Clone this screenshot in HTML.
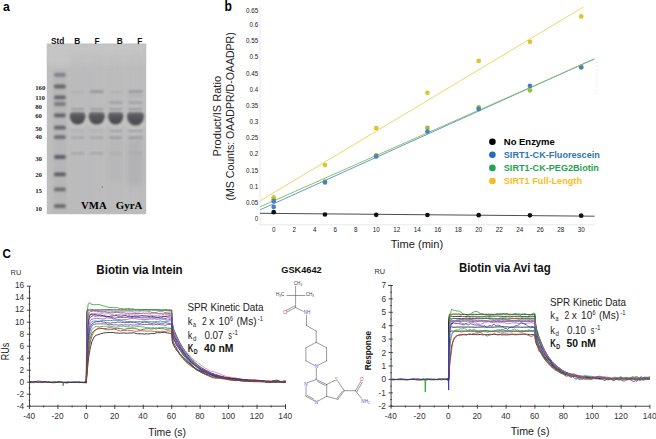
<!DOCTYPE html>
<html><head><meta charset="utf-8"><style>
html,body{margin:0;padding:0;background:#fff;width:656px;height:439px;overflow:hidden;font-family:"Liberation Sans",sans-serif;}
svg{display:block;}
</style></head><body>
<svg width="656" height="439" viewBox="0 0 656 439">
<rect width="656" height="439" fill="#fff"/>
<text x="2.90" y="10.70" font-family="Liberation Sans" font-size="13.2" font-weight="bold" fill="#000" text-anchor="start" textLength="6.8" lengthAdjust="spacingAndGlyphs" >a</text>
<defs><filter id="b1" x="-50%" y="-50%" width="200%" height="200%"><feGaussianBlur stdDeviation="0.8"/></filter><filter id="b1b" x="-50%" y="-50%" width="200%" height="200%"><feGaussianBlur stdDeviation="1.0"/></filter><filter id="b2" x="-50%" y="-50%" width="200%" height="200%"><feGaussianBlur stdDeviation="1.4"/></filter><filter id="b3" x="-50%" y="-50%" width="200%" height="200%"><feGaussianBlur stdDeviation="2.5"/></filter><filter id="bt" x="-10%" y="-10%" width="120%" height="120%"><feGaussianBlur stdDeviation="0.35"/></filter><clipPath id="gc"><rect x="46.8" y="43.6" width="99.4" height="170.6"/></clipPath></defs>
<rect x="46.8" y="43.6" width="99.4" height="170.6" fill="#bebebf"/>
<g clip-path="url(#gc)">
<rect x="46.8" y="43.6" width="99.4" height="22" fill="#c6c6c6" filter="url(#b3)" opacity="0.9"/>
<rect x="69.7" y="53.6" width="15.799999999999997" height="160.6" fill="#b8b8b9" filter="url(#b3)" opacity="0.4"/>
<rect x="88.6" y="53.6" width="16.200000000000003" height="160.6" fill="#b8b8b9" filter="url(#b3)" opacity="0.4"/>
<rect x="108" y="53.6" width="15.299999999999997" height="160.6" fill="#b8b8b9" filter="url(#b3)" opacity="0.4"/>
<rect x="127" y="53.6" width="17" height="160.6" fill="#b8b8b9" filter="url(#b3)" opacity="0.4"/>
<rect x="53.5" y="70" width="13" height="142" fill="#b0b0b2" filter="url(#b2)" opacity="0.55"/>
<rect x="54.0" y="72.89999999999999" width="11.8" height="3.8" rx="1.6" fill="#5c5c64" opacity="0.6000000000000001" filter="url(#b1b)"/>
<rect x="54.0" y="84.6" width="11.8" height="3.8" rx="1.6" fill="#5c5c64" opacity="0.9" filter="url(#b1b)"/>
<rect x="54.0" y="95.39999999999999" width="11.8" height="3.8" rx="1.6" fill="#5c5c64" opacity="0.9" filter="url(#b1b)"/>
<rect x="54.0" y="102.1" width="11.8" height="3.8" rx="1.6" fill="#5c5c64" opacity="0.65" filter="url(#b1b)"/>
<rect x="54.0" y="113.39999999999999" width="11.8" height="3.8" rx="1.6" fill="#5c5c64" opacity="0.9500000000000001" filter="url(#b1b)"/>
<rect x="54.0" y="125.69999999999999" width="11.8" height="3.8" rx="1.6" fill="#5c5c64" opacity="0.9" filter="url(#b1b)"/>
<rect x="54.0" y="135.29999999999998" width="11.8" height="3.8" rx="1.6" fill="#5c5c64" opacity="0.8" filter="url(#b1b)"/>
<rect x="54.0" y="155.1" width="11.8" height="3.8" rx="1.6" fill="#5c5c64" opacity="0.9500000000000001" filter="url(#b1b)"/>
<rect x="54.0" y="172.4" width="11.8" height="3.8" rx="1.6" fill="#5c5c64" opacity="1" filter="url(#b1b)"/>
<rect x="54.0" y="187.5" width="11.8" height="3.8" rx="1.6" fill="#5c5c64" opacity="0.8" filter="url(#b1b)"/>
<rect x="54.0" y="204.29999999999998" width="11.8" height="3.8" rx="1.6" fill="#5c5c64" opacity="0.8500000000000001" filter="url(#b1b)"/>
<defs><linearGradient id="bg" x1="0" y1="0" x2="0" y2="1"><stop offset="0" stop-color="#747478"/><stop offset="0.35" stop-color="#55555a"/><stop offset="1" stop-color="#4a4a4f"/></linearGradient></defs>
<rect x="68.2" y="109.5" width="18.799999999999997" height="17.599999999999994" rx="5" fill="#c8c8c8" filter="url(#b2)" opacity="0.7"/>
<rect x="87.1" y="109.5" width="19.200000000000003" height="17.599999999999994" rx="5" fill="#c8c8c8" filter="url(#b2)" opacity="0.7"/>
<rect x="106.5" y="109.5" width="18.299999999999997" height="17.599999999999994" rx="5" fill="#c8c8c8" filter="url(#b2)" opacity="0.7"/>
<rect x="125.5" y="109.5" width="20" height="18.599999999999994" rx="5" fill="#c8c8c8" filter="url(#b2)" opacity="0.7"/>
<path d="M72.2,112 L83.0,112 Q85.5,112.4 85.5,116.3 A7.90,8.30 0 0 1 69.7,116.3 Q69.7,112.4 72.2,112 Z" fill="url(#bg)" filter="url(#b1)"/>
<path d="M91.1,112 L102.3,112 Q104.8,112.4 104.8,116.3 A8.10,8.30 0 0 1 88.6,116.3 Q88.6,112.4 91.1,112 Z" fill="url(#bg)" filter="url(#b1)"/>
<path d="M110.5,112 L120.8,112 Q123.3,112.4 123.3,116.3 A7.65,8.30 0 0 1 108,116.3 Q108,112.4 110.5,112 Z" fill="url(#bg)" filter="url(#b1)"/>
<path d="M129.5,112 L141.5,112 Q144,112.4 144,116.3 A8.50,9.30 0 0 1 127,116.3 Q127,112.4 129.5,112 Z" fill="url(#bg)" filter="url(#b1)"/>
<rect x="71.2" y="108.5" width="12.799999999999997" height="1.6" fill="#6a6a70" opacity="0.55" filter="url(#b1)"/>
<rect x="90.1" y="108.5" width="13.200000000000003" height="1.6" fill="#6a6a70" opacity="0.55" filter="url(#b1)"/>
<rect x="109.5" y="108.5" width="12.299999999999997" height="1.6" fill="#6a6a70" opacity="0.55" filter="url(#b1)"/>
<rect x="128.5" y="108.5" width="14" height="1.6" fill="#6a6a70" opacity="0.55" filter="url(#b1)"/>
<rect x="90.1" y="90.3" width="13.200000000000003" height="2.6" fill="#6a6a70" opacity="0.45" filter="url(#b1)"/>
<rect x="128.5" y="90.3" width="14" height="2.6" fill="#6a6a70" opacity="0.45" filter="url(#b1)"/>
<rect x="71.2" y="91.2" width="12.799999999999997" height="2" fill="#6a6a70" opacity="0.15" filter="url(#b1)"/>
<rect x="109.5" y="91.2" width="12.299999999999997" height="2" fill="#6a6a70" opacity="0.15" filter="url(#b1)"/>
<rect x="109.5" y="101.6" width="12.299999999999997" height="2" fill="#6a6a70" opacity="0.4" filter="url(#b1)"/>
<rect x="128.5" y="101.6" width="14" height="2" fill="#6a6a70" opacity="0.4" filter="url(#b1)"/>
<rect x="128.5" y="95.10000000000001" width="14" height="1.6" fill="#6a6a70" opacity="0.2" filter="url(#b1)"/>
<rect x="109.5" y="130.0" width="12.299999999999997" height="1.8" fill="#6a6a70" opacity="0.35" filter="url(#b1)"/>
<rect x="128.5" y="130.0" width="14" height="1.8" fill="#6a6a70" opacity="0.35" filter="url(#b1)"/>
<rect x="71.2" y="130.1" width="12.799999999999997" height="1.6" fill="#6a6a70" opacity="0.15" filter="url(#b1)"/>
<rect x="90.1" y="130.1" width="13.200000000000003" height="1.6" fill="#6a6a70" opacity="0.15" filter="url(#b1)"/>
<rect x="109.5" y="136.7" width="12.299999999999997" height="2" fill="#6a6a70" opacity="0.45" filter="url(#b1)"/>
<rect x="128.5" y="136.7" width="14" height="2" fill="#6a6a70" opacity="0.45" filter="url(#b1)"/>
<rect x="71.2" y="136.7" width="12.799999999999997" height="2" fill="#6a6a70" opacity="0.3" filter="url(#b1)"/>
<rect x="90.1" y="136.7" width="13.200000000000003" height="2" fill="#6a6a70" opacity="0.3" filter="url(#b1)"/>
<rect x="71.2" y="152.3" width="12.799999999999997" height="2" fill="#6a6a70" opacity="0.3" filter="url(#b1)"/>
<rect x="90.1" y="152.3" width="13.200000000000003" height="2" fill="#6a6a70" opacity="0.3" filter="url(#b1)"/>
<rect x="109.5" y="152.3" width="12.299999999999997" height="2" fill="#6a6a70" opacity="0.15" filter="url(#b1)"/>
<rect x="128.5" y="152.3" width="14" height="2" fill="#6a6a70" opacity="0.15" filter="url(#b1)"/>
<rect x="110" y="140" width="12" height="40" fill="#a8a8ae" opacity="0.25" filter="url(#b3)"/>
<rect x="129" y="140" width="13" height="45" fill="#a0a0a8" opacity="0.35" filter="url(#b3)"/>
<circle cx="102.4" cy="186.9" r="0.7" fill="#777"/>
</g>
<text x="57.60" y="43.70" font-family="Liberation Sans" font-size="8.6" font-weight="bold" fill="#111" text-anchor="middle" textLength="13.4" lengthAdjust="spacingAndGlyphs" >Std</text>
<text x="77.20" y="43.70" font-family="Liberation Sans" font-size="8.4" font-weight="bold" fill="#111" text-anchor="middle" >B</text>
<text x="97.00" y="43.70" font-family="Liberation Sans" font-size="8.4" font-weight="bold" fill="#111" text-anchor="middle" >F</text>
<text x="119.70" y="43.70" font-family="Liberation Sans" font-size="8.4" font-weight="bold" fill="#111" text-anchor="middle" >B</text>
<text x="139.80" y="43.70" font-family="Liberation Sans" font-size="8.4" font-weight="bold" fill="#111" text-anchor="middle" >F</text>
<text x="35.20" y="89.80" font-family="Liberation Serif" font-size="6.8" font-weight="bold" fill="#222" text-anchor="start" >160</text>
<text x="35.20" y="100.20" font-family="Liberation Serif" font-size="6.8" font-weight="bold" fill="#222" text-anchor="start" >110</text>
<text x="35.20" y="109.30" font-family="Liberation Serif" font-size="6.8" font-weight="bold" fill="#222" text-anchor="start" >80</text>
<text x="35.20" y="117.70" font-family="Liberation Serif" font-size="6.8" font-weight="bold" fill="#222" text-anchor="start" >60</text>
<text x="35.20" y="130.50" font-family="Liberation Serif" font-size="6.8" font-weight="bold" fill="#222" text-anchor="start" >50</text>
<text x="35.20" y="138.80" font-family="Liberation Serif" font-size="6.8" font-weight="bold" fill="#222" text-anchor="start" >40</text>
<text x="35.20" y="160.90" font-family="Liberation Serif" font-size="6.8" font-weight="bold" fill="#222" text-anchor="start" >30</text>
<text x="35.20" y="176.60" font-family="Liberation Serif" font-size="6.8" font-weight="bold" fill="#222" text-anchor="start" >20</text>
<text x="35.20" y="192.80" font-family="Liberation Serif" font-size="6.8" font-weight="bold" fill="#222" text-anchor="start" >15</text>
<text x="35.20" y="210.80" font-family="Liberation Serif" font-size="6.8" font-weight="bold" fill="#222" text-anchor="start" >10</text>
<text x="81.10" y="208.70" font-family="Liberation Serif" font-size="10.6" font-weight="bold" fill="#000" text-anchor="start" textLength="25.7" lengthAdjust="spacingAndGlyphs" >VMA</text>
<text x="115.80" y="208.70" font-family="Liberation Serif" font-size="10.6" font-weight="bold" fill="#000" text-anchor="start" textLength="26.5" lengthAdjust="spacingAndGlyphs" >GyrA</text>
<text x="224.60" y="10.70" font-family="Liberation Sans" font-size="14" font-weight="bold" fill="#000" text-anchor="start" textLength="7.4" lengthAdjust="spacingAndGlyphs" >b</text>
<line x1="260" y1="6" x2="260" y2="225" stroke="#e2e2e2" stroke-width="0.8"/>
<line x1="260" y1="224.8" x2="594.7" y2="224.8" stroke="#e2e2e2" stroke-width="0.8"/>
<text x="258.30" y="221.00" font-family="Liberation Sans" font-size="6.3" font-weight="normal" fill="#222" text-anchor="end" >0</text>
<text x="258.30" y="204.84" font-family="Liberation Sans" font-size="6.3" font-weight="normal" fill="#222" text-anchor="end" >0.05</text>
<text x="258.30" y="188.68" font-family="Liberation Sans" font-size="6.3" font-weight="normal" fill="#222" text-anchor="end" >0.1</text>
<text x="258.30" y="172.52" font-family="Liberation Sans" font-size="6.3" font-weight="normal" fill="#222" text-anchor="end" >0.15</text>
<text x="258.30" y="156.36" font-family="Liberation Sans" font-size="6.3" font-weight="normal" fill="#222" text-anchor="end" >0.2</text>
<text x="258.30" y="140.20" font-family="Liberation Sans" font-size="6.3" font-weight="normal" fill="#222" text-anchor="end" >0.25</text>
<text x="258.30" y="124.04" font-family="Liberation Sans" font-size="6.3" font-weight="normal" fill="#222" text-anchor="end" >0.3</text>
<text x="258.30" y="107.88" font-family="Liberation Sans" font-size="6.3" font-weight="normal" fill="#222" text-anchor="end" >0.35</text>
<text x="258.30" y="91.72" font-family="Liberation Sans" font-size="6.3" font-weight="normal" fill="#222" text-anchor="end" >0.4</text>
<text x="258.30" y="75.56" font-family="Liberation Sans" font-size="6.3" font-weight="normal" fill="#222" text-anchor="end" >0.45</text>
<text x="258.30" y="59.40" font-family="Liberation Sans" font-size="6.3" font-weight="normal" fill="#222" text-anchor="end" >0.5</text>
<text x="258.30" y="43.24" font-family="Liberation Sans" font-size="6.3" font-weight="normal" fill="#222" text-anchor="end" >0.55</text>
<text x="258.30" y="27.08" font-family="Liberation Sans" font-size="6.3" font-weight="normal" fill="#222" text-anchor="end" >0.6</text>
<text x="258.30" y="12.95" font-family="Liberation Sans" font-size="6.3" font-weight="normal" fill="#222" text-anchor="end" >0.65</text>
<text x="273.70" y="231.80" font-family="Liberation Sans" font-size="6.3" font-weight="normal" fill="#222" text-anchor="middle" >0</text>
<text x="294.20" y="231.80" font-family="Liberation Sans" font-size="6.3" font-weight="normal" fill="#222" text-anchor="middle" >2</text>
<text x="314.70" y="231.80" font-family="Liberation Sans" font-size="6.3" font-weight="normal" fill="#222" text-anchor="middle" >4</text>
<text x="335.20" y="231.80" font-family="Liberation Sans" font-size="6.3" font-weight="normal" fill="#222" text-anchor="middle" >6</text>
<text x="355.70" y="231.80" font-family="Liberation Sans" font-size="6.3" font-weight="normal" fill="#222" text-anchor="middle" >8</text>
<text x="376.20" y="231.80" font-family="Liberation Sans" font-size="6.3" font-weight="normal" fill="#222" text-anchor="middle" >10</text>
<text x="396.70" y="231.80" font-family="Liberation Sans" font-size="6.3" font-weight="normal" fill="#222" text-anchor="middle" >12</text>
<text x="417.20" y="231.80" font-family="Liberation Sans" font-size="6.3" font-weight="normal" fill="#222" text-anchor="middle" >14</text>
<text x="437.70" y="231.80" font-family="Liberation Sans" font-size="6.3" font-weight="normal" fill="#222" text-anchor="middle" >16</text>
<text x="458.20" y="231.80" font-family="Liberation Sans" font-size="6.3" font-weight="normal" fill="#222" text-anchor="middle" >18</text>
<text x="478.70" y="231.80" font-family="Liberation Sans" font-size="6.3" font-weight="normal" fill="#222" text-anchor="middle" >20</text>
<text x="499.20" y="231.80" font-family="Liberation Sans" font-size="6.3" font-weight="normal" fill="#222" text-anchor="middle" >22</text>
<text x="519.70" y="231.80" font-family="Liberation Sans" font-size="6.3" font-weight="normal" fill="#222" text-anchor="middle" >24</text>
<text x="540.20" y="231.80" font-family="Liberation Sans" font-size="6.3" font-weight="normal" fill="#222" text-anchor="middle" >26</text>
<text x="560.70" y="231.80" font-family="Liberation Sans" font-size="6.3" font-weight="normal" fill="#222" text-anchor="middle" >28</text>
<text x="581.20" y="231.80" font-family="Liberation Sans" font-size="6.3" font-weight="normal" fill="#222" text-anchor="middle" >30</text>
<line x1="260.4" y1="200.7" x2="583.4" y2="7" stroke="#f2d567" stroke-width="1"/>
<line x1="260.4" y1="209.7" x2="594.3" y2="58.8" stroke="#6a98cf" stroke-width="1"/>
<line x1="260.4" y1="206.7" x2="594.3" y2="59.2" stroke="#86c46a" stroke-width="1"/>
<line x1="597" y1="62" x2="597" y2="94" stroke="#c8c8c8" stroke-width="0.6" stroke-dasharray="1,2.5"/>
<line x1="260" y1="213.3" x2="594.6" y2="216.2" stroke="#3a3a3a" stroke-width="0.9"/>
<circle cx="273.70" cy="206.9" r="2.35" fill="#4a80bb"/>
<circle cx="273.70" cy="197.3" r="2.35" fill="#e3c130"/>
<circle cx="324.95" cy="165.1" r="2.35" fill="#e3c130"/>
<circle cx="376.20" cy="128.2" r="2.35" fill="#e3c130"/>
<circle cx="427.45" cy="92.8" r="2.35" fill="#e3c130"/>
<circle cx="478.70" cy="60.9" r="2.35" fill="#e3c130"/>
<circle cx="529.95" cy="41.8" r="2.35" fill="#e3c130"/>
<circle cx="581.20" cy="16.4" r="2.35" fill="#e3c130"/>
<circle cx="273.70" cy="199.6" r="2.35" fill="#98bf3c"/>
<circle cx="324.95" cy="181.5" r="2.35" fill="#98bf3c"/>
<circle cx="376.20" cy="155.4" r="2.35" fill="#98bf3c"/>
<circle cx="427.45" cy="127.9" r="2.35" fill="#98bf3c"/>
<circle cx="478.70" cy="107.3" r="2.35" fill="#98bf3c"/>
<circle cx="529.95" cy="90.3" r="2.35" fill="#98bf3c"/>
<circle cx="581.20" cy="66.8" r="2.35" fill="#98bf3c"/>
<circle cx="273.70" cy="201.2" r="2.35" fill="#4a80bb"/>
<circle cx="324.95" cy="182.4" r="2.35" fill="#4a80bb"/>
<circle cx="376.20" cy="156.4" r="2.35" fill="#4a80bb"/>
<circle cx="427.45" cy="131.5" r="2.35" fill="#4a80bb"/>
<circle cx="478.70" cy="109.1" r="2.35" fill="#4a80bb"/>
<circle cx="529.95" cy="85.9" r="2.35" fill="#4a80bb"/>
<circle cx="581.20" cy="67.5" r="2.35" fill="#4a80bb"/>
<circle cx="273.70" cy="212.2" r="2.35" fill="#111"/>
<circle cx="324.95" cy="214.5" r="2.35" fill="#111"/>
<circle cx="376.20" cy="214.8" r="2.35" fill="#111"/>
<circle cx="427.45" cy="215.0" r="2.35" fill="#111"/>
<circle cx="478.70" cy="215.2" r="2.35" fill="#111"/>
<circle cx="529.95" cy="215.3" r="2.35" fill="#111"/>
<circle cx="581.20" cy="215.7" r="2.35" fill="#111"/>
<circle cx="492.4" cy="141.70" r="3.3" fill="#000"/>
<text x="503.80" y="145.00" font-family="Liberation Sans" font-size="9.8" font-weight="bold" fill="#000" text-anchor="start" textLength="51" lengthAdjust="spacingAndGlyphs" >No Enzyme</text>
<circle cx="492.4" cy="154.80" r="3.3" fill="#1f6fbf"/>
<text x="503.80" y="158.10" font-family="Liberation Sans" font-size="9.8" font-weight="bold" fill="#2e75b6" text-anchor="start" textLength="96" lengthAdjust="spacingAndGlyphs" >SIRT1-CK-Fluorescein</text>
<circle cx="492.4" cy="167.90" r="3.3" fill="#1ea450"/>
<text x="503.80" y="171.20" font-family="Liberation Sans" font-size="9.8" font-weight="bold" fill="#1ea450" text-anchor="start" textLength="95" lengthAdjust="spacingAndGlyphs" >SIRT1-CK-PEG2Biotin</text>
<circle cx="492.4" cy="181.00" r="3.3" fill="#f7bd27"/>
<text x="503.80" y="184.30" font-family="Liberation Sans" font-size="9.8" font-weight="bold" fill="#f7bd27" text-anchor="start" textLength="78.2" lengthAdjust="spacingAndGlyphs" >SIRT1 Full-Length</text>
<text transform="translate(220.6,116.2) rotate(-90)" font-family="Liberation Sans" font-size="10.7" fill="#222" text-anchor="middle" textLength="80.5" lengthAdjust="spacingAndGlyphs">Product/IS Ratio</text>
<text transform="translate(234.2,116.4) rotate(-90)" font-family="Liberation Sans" font-size="10.7" fill="#222" text-anchor="middle" textLength="168.2" lengthAdjust="spacingAndGlyphs">(MS Counts: OAADPR/D-OAADPR)</text>
<text x="390.70" y="247.70" font-family="Liberation Sans" font-size="11" font-weight="normal" fill="#222" text-anchor="start" textLength="52.5" lengthAdjust="spacingAndGlyphs" >Time (min)</text>
<text x="2.60" y="257.60" font-family="Liberation Sans" font-size="13.4" font-weight="bold" fill="#000" text-anchor="start" textLength="8.4" lengthAdjust="spacingAndGlyphs" >C</text>
<g stroke="#333" stroke-width="0.9" fill="none">
<line x1="29.5" y1="286.2" x2="29.5" y2="406.2"/>
<line x1="29.5" y1="406.2" x2="285.5" y2="406.2"/>
<line x1="285.50" y1="404.2" x2="285.50" y2="409.0"/>
<line x1="26.9" y1="406.20" x2="30.9" y2="406.20"/>
<line x1="28.7" y1="400.20" x2="30.2" y2="400.20"/>
<line x1="26.9" y1="394.20" x2="30.9" y2="394.20"/>
<line x1="28.7" y1="388.20" x2="30.2" y2="388.20"/>
<line x1="26.9" y1="382.20" x2="30.9" y2="382.20"/>
<line x1="28.7" y1="376.20" x2="30.2" y2="376.20"/>
<line x1="26.9" y1="370.20" x2="30.9" y2="370.20"/>
<line x1="28.7" y1="364.20" x2="30.2" y2="364.20"/>
<line x1="26.9" y1="358.20" x2="30.9" y2="358.20"/>
<line x1="28.7" y1="352.20" x2="30.2" y2="352.20"/>
<line x1="26.9" y1="346.20" x2="30.9" y2="346.20"/>
<line x1="28.7" y1="340.20" x2="30.2" y2="340.20"/>
<line x1="26.9" y1="334.20" x2="30.9" y2="334.20"/>
<line x1="28.7" y1="328.20" x2="30.2" y2="328.20"/>
<line x1="26.9" y1="322.20" x2="30.9" y2="322.20"/>
<line x1="28.7" y1="316.20" x2="30.2" y2="316.20"/>
<line x1="26.9" y1="310.20" x2="30.9" y2="310.20"/>
<line x1="28.7" y1="304.20" x2="30.2" y2="304.20"/>
<line x1="26.9" y1="298.20" x2="30.9" y2="298.20"/>
<line x1="28.7" y1="292.20" x2="30.2" y2="292.20"/>
<line x1="26.9" y1="286.20" x2="30.9" y2="286.20"/>
<line x1="29.45" y1="404.70" x2="29.45" y2="409.00"/>
<line x1="43.67" y1="405.50" x2="43.67" y2="407.40"/>
<line x1="57.90" y1="404.70" x2="57.90" y2="409.00"/>
<line x1="72.12" y1="405.50" x2="72.12" y2="407.40"/>
<line x1="86.35" y1="404.70" x2="86.35" y2="409.00"/>
<line x1="100.57" y1="405.50" x2="100.57" y2="407.40"/>
<line x1="114.80" y1="404.70" x2="114.80" y2="409.00"/>
<line x1="129.03" y1="405.50" x2="129.03" y2="407.40"/>
<line x1="143.25" y1="404.70" x2="143.25" y2="409.00"/>
<line x1="157.47" y1="405.50" x2="157.47" y2="407.40"/>
<line x1="171.70" y1="404.70" x2="171.70" y2="409.00"/>
<line x1="185.93" y1="405.50" x2="185.93" y2="407.40"/>
<line x1="200.15" y1="404.70" x2="200.15" y2="409.00"/>
<line x1="214.38" y1="405.50" x2="214.38" y2="407.40"/>
<line x1="228.60" y1="404.70" x2="228.60" y2="409.00"/>
<line x1="242.83" y1="405.50" x2="242.83" y2="407.40"/>
<line x1="257.05" y1="404.70" x2="257.05" y2="409.00"/>
<line x1="271.27" y1="405.50" x2="271.27" y2="407.40"/>
<line x1="285.50" y1="404.70" x2="285.50" y2="409.00"/>
</g>
<text x="24.20" y="409.11" font-family="Liberation Sans" font-size="8.3" font-weight="normal" fill="#333" text-anchor="end" >-4</text>
<text x="24.20" y="397.03" font-family="Liberation Sans" font-size="8.3" font-weight="normal" fill="#333" text-anchor="end" >-2</text>
<text x="24.20" y="384.95" font-family="Liberation Sans" font-size="8.3" font-weight="normal" fill="#333" text-anchor="end" >0</text>
<text x="24.20" y="372.87" font-family="Liberation Sans" font-size="8.3" font-weight="normal" fill="#333" text-anchor="end" >2</text>
<text x="24.20" y="360.79" font-family="Liberation Sans" font-size="8.3" font-weight="normal" fill="#333" text-anchor="end" >4</text>
<text x="24.20" y="348.71" font-family="Liberation Sans" font-size="8.3" font-weight="normal" fill="#333" text-anchor="end" >6</text>
<text x="24.20" y="336.63" font-family="Liberation Sans" font-size="8.3" font-weight="normal" fill="#333" text-anchor="end" >8</text>
<text x="24.20" y="324.55" font-family="Liberation Sans" font-size="8.3" font-weight="normal" fill="#333" text-anchor="end" >10</text>
<text x="24.20" y="312.47" font-family="Liberation Sans" font-size="8.3" font-weight="normal" fill="#333" text-anchor="end" >12</text>
<text x="24.20" y="300.39" font-family="Liberation Sans" font-size="8.3" font-weight="normal" fill="#333" text-anchor="end" >14</text>
<text x="24.20" y="288.31" font-family="Liberation Sans" font-size="8.3" font-weight="normal" fill="#333" text-anchor="end" >16</text>
<text x="29.15" y="418.90" font-family="Liberation Sans" font-size="8.3" font-weight="normal" fill="#333" text-anchor="middle" >-40</text>
<text x="57.60" y="418.90" font-family="Liberation Sans" font-size="8.3" font-weight="normal" fill="#333" text-anchor="middle" >-20</text>
<text x="86.05" y="418.90" font-family="Liberation Sans" font-size="8.3" font-weight="normal" fill="#333" text-anchor="middle" >0</text>
<text x="114.50" y="418.90" font-family="Liberation Sans" font-size="8.3" font-weight="normal" fill="#333" text-anchor="middle" >20</text>
<text x="142.95" y="418.90" font-family="Liberation Sans" font-size="8.3" font-weight="normal" fill="#333" text-anchor="middle" >40</text>
<text x="171.40" y="418.90" font-family="Liberation Sans" font-size="8.3" font-weight="normal" fill="#333" text-anchor="middle" >60</text>
<text x="199.85" y="418.90" font-family="Liberation Sans" font-size="8.3" font-weight="normal" fill="#333" text-anchor="middle" >80</text>
<text x="228.30" y="418.90" font-family="Liberation Sans" font-size="8.3" font-weight="normal" fill="#333" text-anchor="middle" >100</text>
<text x="256.75" y="418.90" font-family="Liberation Sans" font-size="8.3" font-weight="normal" fill="#333" text-anchor="middle" >120</text>
<text x="285.20" y="418.90" font-family="Liberation Sans" font-size="8.3" font-weight="normal" fill="#333" text-anchor="middle" >140</text>
<text x="10.60" y="274.75" font-family="Liberation Sans" font-size="7.4" font-weight="normal" fill="#333" text-anchor="start" >RU</text>
<text transform="translate(8.6,351.5) rotate(-90)" font-family="Liberation Sans" font-size="11.6" fill="#111" text-anchor="middle" textLength="17.6" lengthAdjust="spacingAndGlyphs">RUs</text>
<text x="96.30" y="273.80" font-family="Liberation Sans" font-size="12.6" font-weight="bold" fill="#111" text-anchor="start" textLength="86.4" lengthAdjust="spacingAndGlyphs" >Biotin via Intein</text>
<text x="148.30" y="436.30" font-family="Liberation Sans" font-size="11" font-weight="normal" fill="#222" text-anchor="start" textLength="37.7" lengthAdjust="spacingAndGlyphs" >Time (s)</text>
<text x="187.40" y="311.00" font-family="Liberation Sans" font-size="10.3" font-weight="normal" fill="#222" text-anchor="start" textLength="76.2" lengthAdjust="spacingAndGlyphs" >SPR Kinetic Data</text>
<text x="187.80" y="325.10" font-family="Liberation Sans" font-size="10.3" font-weight="normal" fill="#222" text-anchor="start" textLength="4.7" lengthAdjust="spacingAndGlyphs" >k</text>
<text x="193.00" y="327.10" font-family="Liberation Sans" font-size="6.6" font-weight="normal" fill="#222" text-anchor="start" textLength="3" lengthAdjust="spacingAndGlyphs" >a</text>
<text x="201.90" y="325.10" font-family="Liberation Sans" font-size="10.3" font-weight="normal" fill="#222" text-anchor="start" textLength="4.7" lengthAdjust="spacingAndGlyphs" >2</text>
<text x="209.20" y="325.10" font-family="Liberation Sans" font-size="10.3" font-weight="normal" fill="#222" text-anchor="start" textLength="5.1" lengthAdjust="spacingAndGlyphs" >x</text>
<text x="218.60" y="325.10" font-family="Liberation Sans" font-size="10.3" font-weight="normal" fill="#222" text-anchor="start" textLength="11.1" lengthAdjust="spacingAndGlyphs" >10</text>
<text x="230.10" y="321.10" font-family="Liberation Sans" font-size="6.6" font-weight="normal" fill="#222" text-anchor="start" textLength="3" lengthAdjust="spacingAndGlyphs" >6</text>
<text x="236.50" y="325.10" font-family="Liberation Sans" font-size="10.3" font-weight="normal" fill="#222" text-anchor="start" textLength="20" lengthAdjust="spacingAndGlyphs" >(Ms)</text>
<text x="257.80" y="321.10" font-family="Liberation Sans" font-size="6.6" font-weight="normal" fill="#222" text-anchor="start" textLength="5.2" lengthAdjust="spacingAndGlyphs" >-1</text>
<text x="187.80" y="338.90" font-family="Liberation Sans" font-size="10.3" font-weight="normal" fill="#222" text-anchor="start" textLength="4.7" lengthAdjust="spacingAndGlyphs" >k</text>
<text x="193.00" y="340.90" font-family="Liberation Sans" font-size="6.6" font-weight="normal" fill="#222" text-anchor="start" textLength="3.4" lengthAdjust="spacingAndGlyphs" >d</text>
<text x="204.40" y="338.90" font-family="Liberation Sans" font-size="10.3" font-weight="normal" fill="#222" text-anchor="start" textLength="19.2" lengthAdjust="spacingAndGlyphs" >0.07</text>
<text x="228.20" y="338.90" font-family="Liberation Sans" font-size="10.3" font-weight="normal" fill="#222" text-anchor="start" textLength="3.6" lengthAdjust="spacingAndGlyphs" >s</text>
<text x="232.50" y="334.90" font-family="Liberation Sans" font-size="6.6" font-weight="normal" fill="#222" text-anchor="start" textLength="5.6" lengthAdjust="spacingAndGlyphs" >-1</text>
<text x="187.80" y="352.30" font-family="Liberation Sans" font-size="10.3" font-weight="bold" fill="#111" text-anchor="start" textLength="5.6" lengthAdjust="spacingAndGlyphs" >K</text>
<text x="193.80" y="354.20" font-family="Liberation Sans" font-size="6.6" font-weight="bold" fill="#111" text-anchor="start" textLength="3.9" lengthAdjust="spacingAndGlyphs" >D</text>
<text x="204.10" y="352.30" font-family="Liberation Sans" font-size="10.3" font-weight="bold" fill="#111" text-anchor="start" textLength="29.4" lengthAdjust="spacingAndGlyphs" >40 nM</text>
<text x="549.90" y="305.50" font-family="Liberation Sans" font-size="10.3" font-weight="normal" fill="#222" text-anchor="start" textLength="76.2" lengthAdjust="spacingAndGlyphs" >SPR Kinetic Data</text>
<text x="550.30" y="319.30" font-family="Liberation Sans" font-size="10.3" font-weight="normal" fill="#222" text-anchor="start" textLength="4.7" lengthAdjust="spacingAndGlyphs" >k</text>
<text x="555.50" y="321.30" font-family="Liberation Sans" font-size="6.6" font-weight="normal" fill="#222" text-anchor="start" textLength="3" lengthAdjust="spacingAndGlyphs" >a</text>
<text x="564.40" y="319.30" font-family="Liberation Sans" font-size="10.3" font-weight="normal" fill="#222" text-anchor="start" textLength="4.7" lengthAdjust="spacingAndGlyphs" >2</text>
<text x="571.70" y="319.30" font-family="Liberation Sans" font-size="10.3" font-weight="normal" fill="#222" text-anchor="start" textLength="5.1" lengthAdjust="spacingAndGlyphs" >x</text>
<text x="581.10" y="319.30" font-family="Liberation Sans" font-size="10.3" font-weight="normal" fill="#222" text-anchor="start" textLength="11.1" lengthAdjust="spacingAndGlyphs" >10</text>
<text x="592.60" y="315.30" font-family="Liberation Sans" font-size="6.6" font-weight="normal" fill="#222" text-anchor="start" textLength="3" lengthAdjust="spacingAndGlyphs" >6</text>
<text x="599.00" y="319.30" font-family="Liberation Sans" font-size="10.3" font-weight="normal" fill="#222" text-anchor="start" textLength="20" lengthAdjust="spacingAndGlyphs" >(Ms)</text>
<text x="620.30" y="315.30" font-family="Liberation Sans" font-size="6.6" font-weight="normal" fill="#222" text-anchor="start" textLength="5.2" lengthAdjust="spacingAndGlyphs" >-1</text>
<text x="550.30" y="333.50" font-family="Liberation Sans" font-size="10.3" font-weight="normal" fill="#222" text-anchor="start" textLength="4.7" lengthAdjust="spacingAndGlyphs" >k</text>
<text x="555.50" y="335.50" font-family="Liberation Sans" font-size="6.6" font-weight="normal" fill="#222" text-anchor="start" textLength="3.4" lengthAdjust="spacingAndGlyphs" >d</text>
<text x="566.90" y="333.50" font-family="Liberation Sans" font-size="10.3" font-weight="normal" fill="#222" text-anchor="start" textLength="19.2" lengthAdjust="spacingAndGlyphs" >0.10</text>
<text x="590.70" y="333.50" font-family="Liberation Sans" font-size="10.3" font-weight="normal" fill="#222" text-anchor="start" textLength="3.6" lengthAdjust="spacingAndGlyphs" >s</text>
<text x="595.00" y="329.50" font-family="Liberation Sans" font-size="6.6" font-weight="normal" fill="#222" text-anchor="start" textLength="5.6" lengthAdjust="spacingAndGlyphs" >-1</text>
<text x="550.30" y="346.80" font-family="Liberation Sans" font-size="10.3" font-weight="bold" fill="#111" text-anchor="start" textLength="5.6" lengthAdjust="spacingAndGlyphs" >K</text>
<text x="556.30" y="348.70" font-family="Liberation Sans" font-size="6.6" font-weight="bold" fill="#111" text-anchor="start" textLength="3.9" lengthAdjust="spacingAndGlyphs" >D</text>
<text x="566.60" y="346.80" font-family="Liberation Sans" font-size="10.3" font-weight="bold" fill="#111" text-anchor="start" textLength="29.4" lengthAdjust="spacingAndGlyphs" >50 nM</text>
<g stroke="#333" stroke-width="0.9" fill="none">
<line x1="391.1" y1="285.46" x2="391.1" y2="406.23999999999995"/>
<line x1="388.2" y1="285.46" x2="392.4" y2="285.46"/>
<line x1="391.1" y1="406.23999999999995" x2="649.9200000000001" y2="406.23999999999995"/>
<line x1="388.6" y1="406.24" x2="392.8" y2="406.24"/>
<line x1="390.3" y1="399.53" x2="391.8" y2="399.53"/>
<line x1="388.6" y1="392.82" x2="392.8" y2="392.82"/>
<line x1="390.3" y1="386.11" x2="391.8" y2="386.11"/>
<line x1="388.6" y1="379.40" x2="392.8" y2="379.40"/>
<line x1="390.3" y1="372.69" x2="391.8" y2="372.69"/>
<line x1="388.6" y1="365.98" x2="392.8" y2="365.98"/>
<line x1="390.3" y1="359.27" x2="391.8" y2="359.27"/>
<line x1="388.6" y1="352.56" x2="392.8" y2="352.56"/>
<line x1="390.3" y1="345.85" x2="391.8" y2="345.85"/>
<line x1="388.6" y1="339.14" x2="392.8" y2="339.14"/>
<line x1="390.3" y1="332.43" x2="391.8" y2="332.43"/>
<line x1="388.6" y1="325.72" x2="392.8" y2="325.72"/>
<line x1="390.3" y1="319.01" x2="391.8" y2="319.01"/>
<line x1="388.6" y1="312.30" x2="392.8" y2="312.30"/>
<line x1="390.3" y1="305.59" x2="391.8" y2="305.59"/>
<line x1="388.6" y1="298.88" x2="392.8" y2="298.88"/>
<line x1="390.3" y1="292.17" x2="391.8" y2="292.17"/>
<line x1="388.6" y1="285.46" x2="392.8" y2="285.46"/>
<line x1="391.08" y1="404.74" x2="391.08" y2="408.74"/>
<line x1="405.46" y1="405.54" x2="405.46" y2="407.44"/>
<line x1="419.84" y1="404.74" x2="419.84" y2="408.74"/>
<line x1="434.22" y1="405.54" x2="434.22" y2="407.44"/>
<line x1="448.60" y1="404.74" x2="448.60" y2="408.74"/>
<line x1="462.98" y1="405.54" x2="462.98" y2="407.44"/>
<line x1="477.36" y1="404.74" x2="477.36" y2="408.74"/>
<line x1="491.74" y1="405.54" x2="491.74" y2="407.44"/>
<line x1="506.12" y1="404.74" x2="506.12" y2="408.74"/>
<line x1="520.50" y1="405.54" x2="520.50" y2="407.44"/>
<line x1="534.88" y1="404.74" x2="534.88" y2="408.74"/>
<line x1="549.26" y1="405.54" x2="549.26" y2="407.44"/>
<line x1="563.64" y1="404.74" x2="563.64" y2="408.74"/>
<line x1="578.02" y1="405.54" x2="578.02" y2="407.44"/>
<line x1="592.40" y1="404.74" x2="592.40" y2="408.74"/>
<line x1="606.78" y1="405.54" x2="606.78" y2="407.44"/>
<line x1="621.16" y1="404.74" x2="621.16" y2="408.74"/>
<line x1="635.54" y1="405.54" x2="635.54" y2="407.44"/>
<line x1="649.92" y1="404.74" x2="649.92" y2="408.74"/>
</g>
<text x="386.00" y="409.19" font-family="Liberation Sans" font-size="8.3" font-weight="normal" fill="#333" text-anchor="end" >-2</text>
<text x="386.00" y="395.77" font-family="Liberation Sans" font-size="8.3" font-weight="normal" fill="#333" text-anchor="end" >-1</text>
<text x="386.00" y="382.35" font-family="Liberation Sans" font-size="8.3" font-weight="normal" fill="#333" text-anchor="end" >0</text>
<text x="386.00" y="368.93" font-family="Liberation Sans" font-size="8.3" font-weight="normal" fill="#333" text-anchor="end" >1</text>
<text x="386.00" y="355.51" font-family="Liberation Sans" font-size="8.3" font-weight="normal" fill="#333" text-anchor="end" >2</text>
<text x="386.00" y="342.09" font-family="Liberation Sans" font-size="8.3" font-weight="normal" fill="#333" text-anchor="end" >3</text>
<text x="386.00" y="328.67" font-family="Liberation Sans" font-size="8.3" font-weight="normal" fill="#333" text-anchor="end" >4</text>
<text x="386.00" y="315.25" font-family="Liberation Sans" font-size="8.3" font-weight="normal" fill="#333" text-anchor="end" >5</text>
<text x="386.00" y="301.83" font-family="Liberation Sans" font-size="8.3" font-weight="normal" fill="#333" text-anchor="end" >6</text>
<text x="386.00" y="288.41" font-family="Liberation Sans" font-size="8.3" font-weight="normal" fill="#333" text-anchor="end" >7</text>
<text x="390.78" y="418.90" font-family="Liberation Sans" font-size="8.3" font-weight="normal" fill="#333" text-anchor="middle" >-40</text>
<text x="419.54" y="418.90" font-family="Liberation Sans" font-size="8.3" font-weight="normal" fill="#333" text-anchor="middle" >-20</text>
<text x="448.30" y="418.90" font-family="Liberation Sans" font-size="8.3" font-weight="normal" fill="#333" text-anchor="middle" >0</text>
<text x="477.06" y="418.90" font-family="Liberation Sans" font-size="8.3" font-weight="normal" fill="#333" text-anchor="middle" >20</text>
<text x="505.82" y="418.90" font-family="Liberation Sans" font-size="8.3" font-weight="normal" fill="#333" text-anchor="middle" >40</text>
<text x="534.58" y="418.90" font-family="Liberation Sans" font-size="8.3" font-weight="normal" fill="#333" text-anchor="middle" >60</text>
<text x="563.34" y="418.90" font-family="Liberation Sans" font-size="8.3" font-weight="normal" fill="#333" text-anchor="middle" >80</text>
<text x="592.10" y="418.90" font-family="Liberation Sans" font-size="8.3" font-weight="normal" fill="#333" text-anchor="middle" >100</text>
<text x="620.86" y="418.90" font-family="Liberation Sans" font-size="8.3" font-weight="normal" fill="#333" text-anchor="middle" >120</text>
<text x="649.62" y="418.90" font-family="Liberation Sans" font-size="8.3" font-weight="normal" fill="#333" text-anchor="middle" >140</text>
<text x="374.40" y="274.10" font-family="Liberation Sans" font-size="7.4" font-weight="normal" fill="#333" text-anchor="start" >RU</text>
<text transform="translate(371.4,350.6) rotate(-90)" font-family="Liberation Sans" font-size="8.4" font-weight="bold" fill="#111" text-anchor="middle" textLength="39.2" lengthAdjust="spacingAndGlyphs">Response</text>
<text x="458.90" y="271.80" font-family="Liberation Sans" font-size="12.6" font-weight="bold" fill="#111" text-anchor="start" textLength="91.8" lengthAdjust="spacingAndGlyphs" >Biotin via Avi tag</text>
<text x="510.70" y="434.70" font-family="Liberation Sans" font-size="11" font-weight="normal" fill="#222" text-anchor="start" textLength="38.8" lengthAdjust="spacingAndGlyphs" >Time (s)</text>
<path d="M84.9,382.2 L86.3,382.2 L86.7,313.5 L87.1,310.0 L87.4,309.8 L87.8,309.8 L88.1,309.8 L88.5,309.9 L88.8,309.9 L89.2,309.9 L89.6,309.9 L89.9,310.0 L90.3,310.0 L90.6,310.0 L92.0,310.1 L93.5,310.1 L94.9,310.0 L96.3,309.9 L97.7,309.9 L99.2,309.9 L100.6,309.9 L102.0,309.9 L103.4,309.9 L104.8,309.8 L106.3,309.8 L107.7,309.8 L109.1,309.8 L110.5,309.9 L112.0,309.9 L113.4,309.9 L114.8,309.9 L116.2,309.9 L117.6,309.9 L119.1,309.9 L120.5,309.9 L121.9,310.0 L123.3,309.9 L124.8,309.9 L126.2,309.9 L127.6,310.0 L129.0,309.9 L130.4,310.0 L131.9,310.0 L133.3,309.9 L134.7,310.0 L136.1,310.0 L137.6,309.9 L139.0,310.0 L140.4,309.9 L141.8,309.9 L143.2,309.9 L144.7,309.8 L146.1,309.7 L147.5,309.8 L148.9,309.8 L150.4,309.9 L151.8,309.9 L153.2,310.0 L154.6,310.0 L156.1,310.0 L157.5,310.0 L158.9,310.0 L160.3,310.0 L161.7,310.0 L163.2,310.0 L164.6,309.9 L166.0,309.9 L167.4,309.9 L168.9,310.0 L170.3,310.0 L171.7,310.1 L172.1,318.7 L172.4,323.1 L172.8,325.6 L173.1,327.3 L173.5,328.6 L173.8,329.6 L174.2,330.5 L174.5,331.4 L174.9,332.2 L175.3,333.0 L175.6,333.9 L176.0,334.7 L176.3,335.5 L176.7,336.3 L177.0,337.1 L177.4,337.8 L178.8,340.7 L180.2,343.4 L181.7,346.0 L183.1,348.2 L184.5,350.4 L185.9,352.4 L187.3,354.2 L188.8,356.0 L190.2,357.7 L191.6,359.2 L193.0,360.7 L194.5,362.1 L195.9,363.4 L197.3,364.6 L198.7,365.7 L200.2,366.8 L201.6,367.8 L203.0,368.7 L204.4,369.5 L205.8,370.3 L207.3,371.1 L208.7,371.8 L210.1,372.5 L211.5,373.2 L213.0,373.7 L214.4,374.2 L215.8,374.7 L217.2,375.2 L218.6,375.6 L220.1,376.1 L221.5,376.4 L222.9,376.7 L224.3,377.0 L225.8,377.3 L227.2,377.6 L228.6,377.9 L230.0,378.2 L231.4,378.4 L232.9,378.7 L234.3,378.9 L235.7,379.1 L237.1,379.2 L238.6,379.3 L240.0,379.5 L241.4,379.7 L242.8,379.8 L244.2,380.0 L245.7,380.2 L247.1,380.3 L248.5,380.4 L249.9,380.4 L251.4,380.6 L252.8,380.8 L254.2,380.8 L255.6,380.9 L257.1,381.0 L258.5,381.0 L259.9,381.0 L261.3,381.1 L262.7,381.2 L264.2,381.1 L265.6,381.1 L267.0,381.2 L268.4,381.3 L269.9,381.3 L271.3,381.4 L272.7,381.6 L274.1,381.6 L275.5,381.6 L277.0,381.7 L278.4,381.7 L279.8,381.6 L281.2,381.6 L282.7,381.6 L284.1,381.6 L285.5,381.6" fill="none" stroke="#000" stroke-width="0.75" stroke-linejoin="round"/>
<path d="M84.9,382.3 L86.3,382.4 L86.7,360.6 L87.1,345.1 L87.4,335.0 L87.8,328.1 L88.1,323.7 L88.5,320.3 L88.8,318.3 L89.2,317.2 L89.6,316.0 L89.9,315.2 L90.3,315.1 L90.6,314.3 L92.0,314.2 L93.5,314.3 L94.9,314.7 L96.3,314.7 L97.7,315.1 L99.2,315.0 L100.6,315.1 L102.0,315.4 L103.4,315.8 L104.8,315.9 L106.3,316.2 L107.7,316.5 L109.1,316.6 L110.5,316.1 L112.0,316.1 L113.4,315.7 L114.8,315.7 L116.2,315.5 L117.6,316.0 L119.1,316.0 L120.5,316.1 L121.9,316.1 L123.3,315.8 L124.8,315.5 L126.2,315.7 L127.6,316.4 L129.0,315.9 L130.4,316.3 L131.9,316.6 L133.3,316.5 L134.7,316.1 L136.1,316.1 L137.6,316.3 L139.0,316.0 L140.4,315.8 L141.8,315.6 L143.2,315.9 L144.7,315.9 L146.1,315.9 L147.5,316.2 L148.9,316.5 L150.4,316.2 L151.8,316.1 L153.2,316.7 L154.6,316.8 L156.1,317.2 L157.5,317.3 L158.9,317.2 L160.3,316.9 L161.7,316.9 L163.2,316.4 L164.6,316.5 L166.0,316.3 L167.4,316.2 L168.9,316.0 L170.3,315.9 L171.7,315.6 L172.1,323.8 L172.4,327.7 L172.8,330.6 L173.1,332.7 L173.5,334.5 L173.8,335.1 L174.2,336.3 L174.5,336.8 L174.9,337.4 L175.3,337.8 L175.6,338.8 L176.0,339.3 L176.3,339.6 L176.7,340.3 L177.0,340.8 L177.4,341.2 L178.8,343.9 L180.2,346.8 L181.7,349.2 L183.1,351.2 L184.5,353.7 L185.9,355.6 L187.3,356.9 L188.8,358.3 L190.2,360.0 L191.6,361.0 L193.0,362.1 L194.5,363.8 L195.9,365.4 L197.3,366.6 L198.7,367.6 L200.2,368.7 L201.6,369.5 L203.0,370.2 L204.4,371.2 L205.8,372.1 L207.3,372.9 L208.7,373.3 L210.1,374.2 L211.5,374.4 L213.0,375.0 L214.4,375.7 L215.8,376.0 L217.2,376.1 L218.6,377.0 L220.1,377.4 L221.5,377.3 L222.9,377.9 L224.3,378.0 L225.8,377.7 L227.2,377.7 L228.6,377.9 L230.0,377.8 L231.4,378.1 L232.9,378.3 L234.3,379.0 L235.7,379.1 L237.1,379.3 L238.6,379.6 L240.0,379.9 L241.4,379.3 L242.8,379.9 L244.2,380.2 L245.7,379.8 L247.1,380.0 L248.5,380.4 L249.9,379.8 L251.4,380.0 L252.8,380.4 L254.2,380.1 L255.6,380.5 L257.1,380.9 L258.5,380.9 L259.9,380.9 L261.3,381.2 L262.7,381.1 L264.2,381.3 L265.6,381.5 L267.0,381.5 L268.4,381.5 L269.9,381.7 L271.3,381.7 L272.7,381.1 L274.1,381.1 L275.5,381.0 L277.0,381.4 L278.4,381.1 L279.8,381.6 L281.2,381.5 L282.7,381.6 L284.1,381.1 L285.5,381.1" fill="none" stroke="#000" stroke-width="0.75" stroke-linejoin="round"/>
<path d="M84.9,382.0 L86.3,381.9 L86.7,377.3 L87.1,372.8 L87.4,369.1 L87.8,365.9 L88.1,362.6 L88.5,359.2 L88.8,356.5 L89.2,354.3 L89.6,352.4 L89.9,349.9 L90.3,348.4 L90.6,346.7 L92.0,341.4 L93.5,338.0 L94.9,336.1 L96.3,335.3 L97.7,334.8 L99.2,334.4 L100.6,333.7 L102.0,333.6 L103.4,333.1 L104.8,332.8 L106.3,332.7 L107.7,332.6 L109.1,332.5 L110.5,332.5 L112.0,332.5 L113.4,332.6 L114.8,332.9 L116.2,333.0 L117.6,333.0 L119.1,333.2 L120.5,333.2 L121.9,333.1 L123.3,333.0 L124.8,333.0 L126.2,333.2 L127.6,333.2 L129.0,333.0 L130.4,333.0 L131.9,333.0 L133.3,332.7 L134.7,333.0 L136.1,333.6 L137.6,333.7 L139.0,333.8 L140.4,333.8 L141.8,333.8 L143.2,333.9 L144.7,334.2 L146.1,333.7 L147.5,333.9 L148.9,334.0 L150.4,333.6 L151.8,333.4 L153.2,333.6 L154.6,333.5 L156.1,332.9 L157.5,332.7 L158.9,332.8 L160.3,332.8 L161.7,332.5 L163.2,332.6 L164.6,332.5 L166.0,332.7 L167.4,332.9 L168.9,333.1 L170.3,333.3 L171.7,333.3 L172.1,338.7 L172.4,341.5 L172.8,343.4 L173.1,344.0 L173.5,344.7 L173.8,345.5 L174.2,346.3 L174.5,346.3 L174.9,347.3 L175.3,347.9 L175.6,348.2 L176.0,348.7 L176.3,349.9 L176.7,350.2 L177.0,350.8 L177.4,351.2 L178.8,352.9 L180.2,354.3 L181.7,355.8 L183.1,357.2 L184.5,358.8 L185.9,360.2 L187.3,361.5 L188.8,362.7 L190.2,364.1 L191.6,365.3 L193.0,366.3 L194.5,367.5 L195.9,368.6 L197.3,369.6 L198.7,370.3 L200.2,371.0 L201.6,371.3 L203.0,371.8 L204.4,372.1 L205.8,372.8 L207.3,373.1 L208.7,373.6 L210.1,373.9 L211.5,374.5 L213.0,374.7 L214.4,375.8 L215.8,376.1 L217.2,376.5 L218.6,377.0 L220.1,377.3 L221.5,377.1 L222.9,377.9 L224.3,378.6 L225.8,378.7 L227.2,379.1 L228.6,379.7 L230.0,379.5 L231.4,379.4 L232.9,379.2 L234.3,379.1 L235.7,378.8 L237.1,378.7 L238.6,379.1 L240.0,379.5 L241.4,379.9 L242.8,380.5 L244.2,380.9 L245.7,380.8 L247.1,380.7 L248.5,380.9 L249.9,381.0 L251.4,381.0 L252.8,381.2 L254.2,381.4 L255.6,381.2 L257.1,381.2 L258.5,381.1 L259.9,381.0 L261.3,381.0 L262.7,381.2 L264.2,381.1 L265.6,381.8 L267.0,382.1 L268.4,382.1 L269.9,382.3 L271.3,382.3 L272.7,381.8 L274.1,381.9 L275.5,382.0 L277.0,381.8 L278.4,381.8 L279.8,381.7 L281.2,381.5 L282.7,381.6 L284.1,381.6 L285.5,381.7" fill="none" stroke="#000" stroke-width="0.75" stroke-linejoin="round"/>
<path d="M84.9,382.4 L86.3,383.0 L86.7,340.9 L87.1,320.9 L87.4,311.6 L87.8,307.0 L88.1,304.9 L88.5,303.6 L88.8,303.2 L89.2,302.9 L89.6,303.0 L89.9,302.7 L90.3,303.7 L90.6,303.8 L92.0,304.4 L93.5,304.7 L94.9,304.8 L96.3,304.6 L97.7,304.5 L99.2,304.7 L100.6,304.9 L102.0,305.5 L103.4,305.9 L104.8,306.2 L106.3,306.8 L107.7,307.0 L109.1,307.5 L110.5,307.6 L112.0,307.4 L113.4,307.4 L114.8,307.8 L116.2,307.6 L117.6,307.7 L119.1,308.4 L120.5,308.5 L121.9,308.5 L123.3,308.7 L124.8,308.9 L126.2,308.6 L127.6,308.4 L129.0,308.6 L130.4,308.7 L131.9,308.8 L133.3,308.9 L134.7,309.4 L136.1,309.4 L137.6,309.6 L139.0,309.7 L140.4,309.9 L141.8,309.5 L143.2,309.7 L144.7,309.8 L146.1,309.6 L147.5,309.8 L148.9,310.0 L150.4,309.8 L151.8,309.4 L153.2,309.7 L154.6,309.3 L156.1,309.4 L157.5,309.6 L158.9,309.9 L160.3,309.9 L161.7,310.7 L163.2,310.4 L164.6,310.3 L166.0,310.4 L167.4,310.7 L168.9,310.7 L170.3,310.8 L171.7,311.2 L172.1,319.5 L172.4,323.9 L172.8,326.2 L173.1,328.4 L173.5,329.6 L173.8,331.0 L174.2,331.9 L174.5,332.7 L174.9,333.3 L175.3,334.2 L175.6,335.0 L176.0,335.8 L176.3,336.7 L176.7,337.3 L177.0,337.9 L177.4,338.5 L178.8,341.6 L180.2,344.4 L181.7,347.4 L183.1,350.0 L184.5,352.1 L185.9,354.0 L187.3,355.7 L188.8,356.9 L190.2,358.7 L191.6,360.3 L193.0,361.3 L194.5,363.1 L195.9,364.9 L197.3,365.9 L198.7,366.9 L200.2,368.4 L201.6,369.1 L203.0,369.8 L204.4,370.6 L205.8,371.3 L207.3,372.4 L208.7,373.2 L210.1,373.9 L211.5,374.7 L213.0,375.6 L214.4,375.6 L215.8,376.0 L217.2,376.3 L218.6,376.4 L220.1,376.5 L221.5,376.9 L222.9,377.1 L224.3,377.8 L225.8,378.2 L227.2,378.5 L228.6,378.9 L230.0,379.1 L231.4,378.9 L232.9,379.3 L234.3,379.5 L235.7,379.2 L237.1,379.4 L238.6,379.7 L240.0,379.7 L241.4,379.7 L242.8,380.1 L244.2,379.9 L245.7,380.2 L247.1,380.2 L248.5,380.6 L249.9,381.1 L251.4,381.1 L252.8,380.9 L254.2,381.3 L255.6,381.2 L257.1,380.9 L258.5,381.2 L259.9,381.3 L261.3,381.3 L262.7,381.5 L264.2,381.3 L265.6,381.5 L267.0,381.8 L268.4,381.8 L269.9,382.0 L271.3,382.3 L272.7,381.9 L274.1,381.6 L275.5,381.4 L277.0,380.7 L278.4,380.9 L279.8,381.4 L281.2,381.4 L282.7,381.3 L284.1,382.0 L285.5,382.1" fill="none" stroke="#1a9a1a" stroke-width="0.75" stroke-linejoin="round"/>
<path d="M84.9,382.3 L86.3,382.5 L86.7,348.4 L87.1,330.3 L87.4,320.3 L87.8,315.0 L88.1,312.3 L88.5,310.6 L88.8,310.0 L89.2,309.8 L89.6,309.7 L89.9,309.3 L90.3,309.5 L90.6,309.3 L92.0,309.4 L93.5,310.0 L94.9,310.4 L96.3,310.5 L97.7,310.6 L99.2,310.9 L100.6,311.1 L102.0,311.2 L103.4,311.1 L104.8,311.4 L106.3,311.1 L107.7,310.8 L109.1,311.0 L110.5,311.0 L112.0,311.3 L113.4,311.6 L114.8,311.6 L116.2,311.4 L117.6,311.6 L119.1,311.3 L120.5,311.3 L121.9,311.3 L123.3,311.2 L124.8,311.3 L126.2,311.0 L127.6,311.0 L129.0,311.1 L130.4,311.4 L131.9,311.1 L133.3,311.8 L134.7,312.1 L136.1,312.0 L137.6,311.9 L139.0,312.0 L140.4,311.3 L141.8,310.9 L143.2,311.0 L144.7,311.0 L146.1,311.1 L147.5,311.3 L148.9,311.5 L150.4,311.7 L151.8,312.5 L153.2,312.4 L154.6,312.8 L156.1,312.4 L157.5,312.0 L158.9,311.3 L160.3,311.6 L161.7,311.6 L163.2,311.9 L164.6,312.5 L166.0,312.3 L167.4,312.3 L168.9,312.2 L170.3,312.1 L171.7,311.8 L172.1,320.2 L172.4,324.6 L172.8,327.1 L173.1,328.8 L173.5,330.4 L173.8,331.3 L174.2,332.1 L174.5,333.3 L174.9,333.9 L175.3,334.5 L175.6,335.8 L176.0,336.4 L176.3,336.9 L176.7,337.7 L177.0,338.5 L177.4,339.0 L178.8,342.4 L180.2,344.9 L181.7,347.5 L183.1,349.9 L184.5,352.0 L185.9,353.7 L187.3,355.6 L188.8,357.4 L190.2,359.0 L191.6,361.0 L193.0,362.5 L194.5,363.9 L195.9,364.8 L197.3,366.0 L198.7,366.7 L200.2,367.3 L201.6,368.4 L203.0,369.4 L204.4,369.9 L205.8,370.6 L207.3,371.4 L208.7,372.1 L210.1,372.8 L211.5,373.7 L213.0,374.3 L214.4,374.8 L215.8,374.7 L217.2,375.3 L218.6,375.8 L220.1,376.1 L221.5,376.9 L222.9,377.6 L224.3,377.6 L225.8,377.9 L227.2,378.1 L228.6,378.5 L230.0,378.7 L231.4,379.3 L232.9,379.6 L234.3,380.0 L235.7,379.9 L237.1,380.1 L238.6,379.9 L240.0,380.0 L241.4,379.9 L242.8,379.7 L244.2,380.0 L245.7,380.0 L247.1,379.8 L248.5,380.0 L249.9,380.6 L251.4,380.2 L252.8,379.9 L254.2,380.6 L255.6,380.8 L257.1,380.5 L258.5,380.8 L259.9,381.2 L261.3,380.9 L262.7,381.2 L264.2,381.3 L265.6,381.3 L267.0,381.7 L268.4,381.8 L269.9,381.7 L271.3,382.1 L272.7,382.4 L274.1,382.3 L275.5,382.0 L277.0,382.2 L278.4,382.0 L279.8,382.0 L281.2,382.0 L282.7,382.2 L284.1,382.1 L285.5,381.8" fill="none" stroke="#808080" stroke-width="0.75" stroke-linejoin="round"/>
<path d="M84.9,382.2 L86.3,382.7 L86.7,354.4 L87.1,337.2 L87.4,326.7 L87.8,320.8 L88.1,316.9 L88.5,314.9 L88.8,313.6 L89.2,312.3 L89.6,312.3 L89.9,311.9 L90.3,311.3 L90.6,311.2 L92.0,311.3 L93.5,310.9 L94.9,311.2 L96.3,311.2 L97.7,311.4 L99.2,311.5 L100.6,312.0 L102.0,312.1 L103.4,312.0 L104.8,311.9 L106.3,312.2 L107.7,312.3 L109.1,312.5 L110.5,312.8 L112.0,312.8 L113.4,312.8 L114.8,312.5 L116.2,312.4 L117.6,312.3 L119.1,312.6 L120.5,312.8 L121.9,312.8 L123.3,312.8 L124.8,313.1 L126.2,313.2 L127.6,313.2 L129.0,313.3 L130.4,313.2 L131.9,313.4 L133.3,313.3 L134.7,313.2 L136.1,313.5 L137.6,313.5 L139.0,313.3 L140.4,313.5 L141.8,313.4 L143.2,313.0 L144.7,313.3 L146.1,313.2 L147.5,313.3 L148.9,313.0 L150.4,313.4 L151.8,313.0 L153.2,313.2 L154.6,312.9 L156.1,313.0 L157.5,313.4 L158.9,313.7 L160.3,313.5 L161.7,313.6 L163.2,314.2 L164.6,313.3 L166.0,313.2 L167.4,313.6 L168.9,313.5 L170.3,313.7 L171.7,313.9 L172.1,322.2 L172.4,326.3 L172.8,328.7 L173.1,330.1 L173.5,331.8 L173.8,333.1 L174.2,333.9 L174.5,334.9 L174.9,335.9 L175.3,336.3 L175.6,336.7 L176.0,337.6 L176.3,339.0 L176.7,339.7 L177.0,340.4 L177.4,341.1 L178.8,343.9 L180.2,346.6 L181.7,349.0 L183.1,351.4 L184.5,353.2 L185.9,355.6 L187.3,357.0 L188.8,358.8 L190.2,360.3 L191.6,362.3 L193.0,363.3 L194.5,364.7 L195.9,365.9 L197.3,367.2 L198.7,368.2 L200.2,369.5 L201.6,370.5 L203.0,371.2 L204.4,371.8 L205.8,372.7 L207.3,373.2 L208.7,373.3 L210.1,374.3 L211.5,374.9 L213.0,375.2 L214.4,375.6 L215.8,376.3 L217.2,376.9 L218.6,377.0 L220.1,377.4 L221.5,377.8 L222.9,378.1 L224.3,378.0 L225.8,378.5 L227.2,379.0 L228.6,379.4 L230.0,379.7 L231.4,380.0 L232.9,380.3 L234.3,380.2 L235.7,380.5 L237.1,380.4 L238.6,380.6 L240.0,380.4 L241.4,380.4 L242.8,380.2 L244.2,380.6 L245.7,380.5 L247.1,380.6 L248.5,381.3 L249.9,381.5 L251.4,381.4 L252.8,381.6 L254.2,381.6 L255.6,381.2 L257.1,381.0 L258.5,380.9 L259.9,380.8 L261.3,380.9 L262.7,381.1 L264.2,381.3 L265.6,381.6 L267.0,381.7 L268.4,382.0 L269.9,382.1 L271.3,382.1 L272.7,382.3 L274.1,382.2 L275.5,381.8 L277.0,381.8 L278.4,381.5 L279.8,381.8 L281.2,381.8 L282.7,382.3 L284.1,382.1 L285.5,382.0" fill="none" stroke="#8a2a9a" stroke-width="0.75" stroke-linejoin="round"/>
<path d="M84.9,382.3 L86.3,382.3 L86.7,355.1 L87.1,338.5 L87.4,328.7 L87.8,322.1 L88.1,318.7 L88.5,316.5 L88.8,315.3 L89.2,314.8 L89.6,314.5 L89.9,314.1 L90.3,313.8 L90.6,313.8 L92.0,313.3 L93.5,313.3 L94.9,313.4 L96.3,313.4 L97.7,313.0 L99.2,313.2 L100.6,313.8 L102.0,313.7 L103.4,313.7 L104.8,314.0 L106.3,313.7 L107.7,313.5 L109.1,313.9 L110.5,314.1 L112.0,314.5 L113.4,315.0 L114.8,315.1 L116.2,314.6 L117.6,314.4 L119.1,314.4 L120.5,314.2 L121.9,314.0 L123.3,314.7 L124.8,314.8 L126.2,314.7 L127.6,314.8 L129.0,314.7 L130.4,314.6 L131.9,314.9 L133.3,314.9 L134.7,314.8 L136.1,315.0 L137.6,315.0 L139.0,315.4 L140.4,315.8 L141.8,316.0 L143.2,316.3 L144.7,316.1 L146.1,315.8 L147.5,315.3 L148.9,315.0 L150.4,315.1 L151.8,315.2 L153.2,315.6 L154.6,315.8 L156.1,315.7 L157.5,315.5 L158.9,315.4 L160.3,315.0 L161.7,314.8 L163.2,314.9 L164.6,314.9 L166.0,314.7 L167.4,314.7 L168.9,314.6 L170.3,314.7 L171.7,314.9 L172.1,323.0 L172.4,327.3 L172.8,329.6 L173.1,330.6 L173.5,331.6 L173.8,332.2 L174.2,332.6 L174.5,333.5 L174.9,334.3 L175.3,335.2 L175.6,336.1 L176.0,336.9 L176.3,337.4 L176.7,338.2 L177.0,338.8 L177.4,339.4 L178.8,341.9 L180.2,344.6 L181.7,346.5 L183.1,348.4 L184.5,350.2 L185.9,351.5 L187.3,352.8 L188.8,354.6 L190.2,356.1 L191.6,357.4 L193.0,358.9 L194.5,360.2 L195.9,361.3 L197.3,362.3 L198.7,363.3 L200.2,364.6 L201.6,365.6 L203.0,366.5 L204.4,367.7 L205.8,368.6 L207.3,369.2 L208.7,370.1 L210.1,371.1 L211.5,371.3 L213.0,371.5 L214.4,372.0 L215.8,372.4 L217.2,373.1 L218.6,373.4 L220.1,374.2 L221.5,374.7 L222.9,375.4 L224.3,375.5 L225.8,376.4 L227.2,376.7 L228.6,377.0 L230.0,377.1 L231.4,377.3 L232.9,377.5 L234.3,377.5 L235.7,377.9 L237.1,378.5 L238.6,378.8 L240.0,379.0 L241.4,379.6 L242.8,379.8 L244.2,379.5 L245.7,379.9 L247.1,379.9 L248.5,379.6 L249.9,379.5 L251.4,379.7 L252.8,379.6 L254.2,379.7 L255.6,380.1 L257.1,380.2 L258.5,380.3 L259.9,380.8 L261.3,380.9 L262.7,381.1 L264.2,381.2 L265.6,381.4 L267.0,381.0 L268.4,380.6 L269.9,380.7 L271.3,381.1 L272.7,381.3 L274.1,381.8 L275.5,382.6 L277.0,382.4 L278.4,382.4 L279.8,382.5 L281.2,382.4 L282.7,381.9 L284.1,382.2 L285.5,382.2" fill="none" stroke="#d070a0" stroke-width="0.75" stroke-linejoin="round"/>
<path d="M84.9,381.9 L86.3,381.2 L86.7,360.5 L87.1,346.5 L87.4,336.6 L87.8,329.8 L88.1,325.5 L88.5,322.7 L88.8,320.8 L89.2,319.5 L89.6,318.8 L89.9,317.9 L90.3,317.3 L90.6,316.9 L92.0,316.1 L93.5,315.6 L94.9,316.3 L96.3,316.1 L97.7,315.8 L99.2,315.8 L100.6,316.3 L102.0,315.9 L103.4,316.2 L104.8,316.4 L106.3,316.8 L107.7,316.4 L109.1,316.9 L110.5,317.3 L112.0,317.6 L113.4,317.8 L114.8,318.1 L116.2,317.8 L117.6,317.6 L119.1,317.4 L120.5,317.4 L121.9,317.4 L123.3,317.3 L124.8,317.3 L126.2,317.3 L127.6,317.3 L129.0,316.9 L130.4,317.2 L131.9,317.3 L133.3,317.1 L134.7,317.1 L136.1,317.3 L137.6,317.4 L139.0,317.3 L140.4,317.5 L141.8,317.8 L143.2,317.8 L144.7,317.8 L146.1,317.8 L147.5,317.9 L148.9,317.7 L150.4,317.8 L151.8,317.7 L153.2,317.9 L154.6,317.9 L156.1,317.7 L157.5,317.8 L158.9,317.7 L160.3,318.3 L161.7,317.9 L163.2,318.1 L164.6,318.4 L166.0,318.4 L167.4,317.8 L168.9,317.9 L170.3,318.1 L171.7,317.5 L172.1,325.2 L172.4,328.9 L172.8,331.5 L173.1,332.7 L173.5,334.2 L173.8,335.3 L174.2,336.4 L174.5,337.1 L174.9,337.7 L175.3,338.2 L175.6,338.8 L176.0,340.1 L176.3,341.1 L176.7,342.2 L177.0,343.2 L177.4,343.7 L178.8,345.9 L180.2,348.2 L181.7,350.3 L183.1,352.3 L184.5,354.4 L185.9,356.1 L187.3,357.6 L188.8,359.4 L190.2,361.1 L191.6,362.3 L193.0,363.7 L194.5,364.9 L195.9,366.2 L197.3,367.1 L198.7,368.3 L200.2,369.5 L201.6,370.7 L203.0,371.1 L204.4,371.5 L205.8,371.9 L207.3,372.5 L208.7,373.3 L210.1,373.9 L211.5,374.4 L213.0,375.2 L214.4,375.7 L215.8,375.7 L217.2,376.1 L218.6,376.5 L220.1,377.0 L221.5,377.1 L222.9,377.4 L224.3,377.9 L225.8,378.6 L227.2,378.7 L228.6,378.9 L230.0,379.3 L231.4,379.2 L232.9,379.1 L234.3,379.4 L235.7,379.7 L237.1,379.7 L238.6,379.8 L240.0,379.8 L241.4,379.6 L242.8,379.3 L244.2,379.4 L245.7,379.7 L247.1,379.4 L248.5,379.9 L249.9,380.3 L251.4,380.7 L252.8,380.8 L254.2,381.0 L255.6,380.9 L257.1,380.8 L258.5,380.7 L259.9,380.8 L261.3,381.4 L262.7,381.3 L264.2,381.5 L265.6,381.8 L267.0,382.0 L268.4,381.9 L269.9,381.9 L271.3,381.7 L272.7,381.8 L274.1,381.5 L275.5,381.2 L277.0,381.5 L278.4,382.0 L279.8,381.9 L281.2,382.2 L282.7,382.3 L284.1,382.3 L285.5,382.4" fill="none" stroke="#2030c0" stroke-width="0.75" stroke-linejoin="round"/>
<path d="M84.9,382.4 L86.3,382.6 L86.7,365.8 L87.1,353.0 L87.4,343.5 L87.8,336.5 L88.1,331.7 L88.5,328.3 L88.8,325.8 L89.2,324.1 L89.6,322.6 L89.9,321.4 L90.3,320.6 L90.6,320.1 L92.0,319.2 L93.5,318.9 L94.9,318.5 L96.3,318.4 L97.7,318.4 L99.2,318.6 L100.6,318.8 L102.0,318.9 L103.4,318.9 L104.8,318.7 L106.3,317.9 L107.7,317.8 L109.1,318.2 L110.5,318.1 L112.0,318.2 L113.4,318.8 L114.8,319.1 L116.2,319.3 L117.6,319.6 L119.1,319.7 L120.5,319.6 L121.9,320.0 L123.3,319.5 L124.8,319.4 L126.2,319.3 L127.6,319.4 L129.0,318.8 L130.4,318.7 L131.9,318.4 L133.3,318.7 L134.7,318.5 L136.1,318.7 L137.6,318.9 L139.0,319.1 L140.4,319.1 L141.8,319.4 L143.2,319.3 L144.7,319.5 L146.1,319.6 L147.5,319.6 L148.9,319.1 L150.4,319.0 L151.8,319.0 L153.2,319.1 L154.6,318.8 L156.1,319.2 L157.5,319.4 L158.9,319.1 L160.3,318.9 L161.7,319.1 L163.2,319.3 L164.6,319.6 L166.0,319.8 L167.4,320.0 L168.9,319.6 L170.3,319.5 L171.7,319.1 L172.1,326.4 L172.4,330.7 L172.8,333.7 L173.1,335.0 L173.5,336.4 L173.8,337.5 L174.2,337.9 L174.5,338.7 L174.9,339.4 L175.3,340.2 L175.6,340.9 L176.0,341.6 L176.3,342.3 L176.7,343.0 L177.0,343.2 L177.4,343.8 L178.8,346.4 L180.2,348.5 L181.7,350.8 L183.1,353.0 L184.5,355.1 L185.9,356.8 L187.3,358.7 L188.8,360.3 L190.2,361.6 L191.6,362.9 L193.0,363.9 L194.5,364.9 L195.9,365.6 L197.3,367.1 L198.7,367.7 L200.2,368.7 L201.6,369.6 L203.0,370.7 L204.4,370.8 L205.8,371.7 L207.3,372.7 L208.7,373.4 L210.1,373.8 L211.5,374.7 L213.0,375.2 L214.4,375.3 L215.8,375.6 L217.2,376.0 L218.6,376.2 L220.1,376.7 L221.5,377.2 L222.9,377.1 L224.3,377.7 L225.8,378.4 L227.2,378.7 L228.6,379.4 L230.0,379.9 L231.4,380.2 L232.9,380.1 L234.3,379.8 L235.7,379.9 L237.1,380.2 L238.6,380.4 L240.0,380.4 L241.4,381.0 L242.8,380.8 L244.2,380.9 L245.7,380.5 L247.1,380.8 L248.5,380.8 L249.9,380.9 L251.4,380.9 L252.8,381.3 L254.2,381.3 L255.6,381.8 L257.1,381.8 L258.5,381.5 L259.9,381.3 L261.3,381.6 L262.7,381.3 L264.2,381.4 L265.6,382.1 L267.0,382.3 L268.4,381.9 L269.9,382.0 L271.3,381.8 L272.7,381.7 L274.1,381.8 L275.5,381.7 L277.0,381.8 L278.4,381.9 L279.8,382.2 L281.2,382.2 L282.7,382.1 L284.1,382.3 L285.5,382.2" fill="none" stroke="#b030b0" stroke-width="0.75" stroke-linejoin="round"/>
<path d="M84.9,382.3 L86.3,382.5 L86.7,368.5 L87.1,357.7 L87.4,349.2 L87.8,342.9 L88.1,337.5 L88.5,333.9 L88.8,330.4 L89.2,327.9 L89.6,326.3 L89.9,324.9 L90.3,323.8 L90.6,323.2 L92.0,321.4 L93.5,321.1 L94.9,321.0 L96.3,321.0 L97.7,321.2 L99.2,321.3 L100.6,320.7 L102.0,320.8 L103.4,320.4 L104.8,320.4 L106.3,320.6 L107.7,320.5 L109.1,320.4 L110.5,320.5 L112.0,320.5 L113.4,320.1 L114.8,320.4 L116.2,320.4 L117.6,320.6 L119.1,320.2 L120.5,320.5 L121.9,320.8 L123.3,321.2 L124.8,321.0 L126.2,321.4 L127.6,321.5 L129.0,321.5 L130.4,321.4 L131.9,321.8 L133.3,321.8 L134.7,321.7 L136.1,321.6 L137.6,321.8 L139.0,321.5 L140.4,321.6 L141.8,321.4 L143.2,321.3 L144.7,321.1 L146.1,321.5 L147.5,321.5 L148.9,321.7 L150.4,321.6 L151.8,322.0 L153.2,321.7 L154.6,321.7 L156.1,321.6 L157.5,321.6 L158.9,321.3 L160.3,321.0 L161.7,321.3 L163.2,321.5 L164.6,321.5 L166.0,321.3 L167.4,321.4 L168.9,321.1 L170.3,320.7 L171.7,321.2 L172.1,328.3 L172.4,332.4 L172.8,334.4 L173.1,336.0 L173.5,337.2 L173.8,338.5 L174.2,339.0 L174.5,340.0 L174.9,340.8 L175.3,341.1 L175.6,341.7 L176.0,342.7 L176.3,343.3 L176.7,343.8 L177.0,344.3 L177.4,344.8 L178.8,346.8 L180.2,348.8 L181.7,350.6 L183.1,352.7 L184.5,354.5 L185.9,356.6 L187.3,358.6 L188.8,360.6 L190.2,362.2 L191.6,363.6 L193.0,364.6 L194.5,365.6 L195.9,366.6 L197.3,368.0 L198.7,368.8 L200.2,370.1 L201.6,371.2 L203.0,372.1 L204.4,372.9 L205.8,373.4 L207.3,374.0 L208.7,373.9 L210.1,374.2 L211.5,374.3 L213.0,374.6 L214.4,375.0 L215.8,375.9 L217.2,376.3 L218.6,376.8 L220.1,377.1 L221.5,377.3 L222.9,377.3 L224.3,377.5 L225.8,377.7 L227.2,378.3 L228.6,378.6 L230.0,379.4 L231.4,379.4 L232.9,379.4 L234.3,379.1 L235.7,379.6 L237.1,379.3 L238.6,379.7 L240.0,380.2 L241.4,380.8 L242.8,380.5 L244.2,380.5 L245.7,380.6 L247.1,380.7 L248.5,380.6 L249.9,380.4 L251.4,380.6 L252.8,380.6 L254.2,380.9 L255.6,381.0 L257.1,381.3 L258.5,381.2 L259.9,381.2 L261.3,381.1 L262.7,381.1 L264.2,381.7 L265.6,381.9 L267.0,382.1 L268.4,381.8 L269.9,382.0 L271.3,382.0 L272.7,382.1 L274.1,382.1 L275.5,382.1 L277.0,381.8 L278.4,381.8 L279.8,381.8 L281.2,381.5 L282.7,382.0 L284.1,381.7 L285.5,381.4" fill="none" stroke="#208080" stroke-width="0.75" stroke-linejoin="round"/>
<path d="M84.9,382.4 L86.3,382.6 L86.7,370.6 L87.1,360.8 L87.4,353.1 L87.8,347.0 L88.1,341.9 L88.5,337.5 L88.8,334.0 L89.2,331.4 L89.6,329.2 L89.9,327.7 L90.3,326.7 L90.6,326.1 L92.0,323.9 L93.5,322.9 L94.9,322.1 L96.3,321.7 L97.7,321.8 L99.2,321.6 L100.6,321.4 L102.0,321.8 L103.4,322.0 L104.8,322.2 L106.3,322.8 L107.7,322.8 L109.1,323.0 L110.5,323.2 L112.0,322.8 L113.4,322.6 L114.8,322.7 L116.2,322.5 L117.6,322.0 L119.1,322.2 L120.5,322.1 L121.9,322.4 L123.3,322.4 L124.8,322.7 L126.2,322.5 L127.6,322.5 L129.0,322.4 L130.4,322.3 L131.9,322.2 L133.3,322.2 L134.7,322.5 L136.1,322.7 L137.6,323.0 L139.0,323.2 L140.4,323.3 L141.8,322.6 L143.2,322.4 L144.7,322.1 L146.1,322.3 L147.5,322.4 L148.9,323.0 L150.4,323.1 L151.8,323.5 L153.2,323.0 L154.6,323.0 L156.1,322.7 L157.5,323.2 L158.9,323.0 L160.3,323.3 L161.7,323.2 L163.2,323.2 L164.6,322.8 L166.0,322.7 L167.4,323.1 L168.9,323.3 L170.3,323.9 L171.7,323.8 L172.1,330.9 L172.4,334.3 L172.8,336.5 L173.1,337.6 L173.5,338.5 L173.8,339.1 L174.2,339.9 L174.5,340.2 L174.9,341.2 L175.3,342.6 L175.6,343.7 L176.0,344.5 L176.3,345.5 L176.7,345.9 L177.0,345.6 L177.4,346.2 L178.8,348.5 L180.2,350.6 L181.7,352.7 L183.1,355.1 L184.5,356.5 L185.9,358.4 L187.3,360.0 L188.8,361.6 L190.2,363.0 L191.6,365.0 L193.0,366.3 L194.5,367.8 L195.9,368.7 L197.3,369.7 L198.7,370.3 L200.2,371.3 L201.6,371.7 L203.0,372.7 L204.4,373.6 L205.8,374.5 L207.3,374.5 L208.7,374.9 L210.1,375.2 L211.5,375.3 L213.0,375.7 L214.4,376.3 L215.8,376.7 L217.2,377.0 L218.6,377.4 L220.1,377.7 L221.5,378.0 L222.9,378.4 L224.3,378.3 L225.8,378.4 L227.2,378.6 L228.6,378.3 L230.0,378.1 L231.4,379.0 L232.9,379.1 L234.3,379.2 L235.7,379.4 L237.1,379.6 L238.6,379.3 L240.0,379.7 L241.4,380.1 L242.8,380.5 L244.2,380.8 L245.7,381.2 L247.1,381.1 L248.5,381.1 L249.9,381.2 L251.4,381.3 L252.8,381.3 L254.2,381.5 L255.6,381.2 L257.1,381.0 L258.5,381.1 L259.9,380.9 L261.3,380.6 L262.7,380.8 L264.2,381.0 L265.6,381.2 L267.0,381.3 L268.4,381.2 L269.9,381.5 L271.3,381.3 L272.7,380.8 L274.1,380.6 L275.5,380.4 L277.0,380.1 L278.4,380.5 L279.8,381.1 L281.2,381.6 L282.7,381.9 L284.1,382.1 L285.5,381.9" fill="none" stroke="#203090" stroke-width="0.75" stroke-linejoin="round"/>
<path d="M84.9,381.8 L86.3,381.5 L86.7,371.3 L87.1,362.6 L87.4,355.7 L87.8,349.9 L88.1,345.2 L88.5,341.2 L88.8,338.2 L89.2,335.4 L89.6,333.3 L89.9,331.4 L90.3,330.3 L90.6,328.9 L92.0,325.8 L93.5,324.5 L94.9,324.2 L96.3,323.9 L97.7,323.9 L99.2,324.0 L100.6,323.8 L102.0,323.8 L103.4,323.9 L104.8,323.9 L106.3,324.0 L107.7,324.5 L109.1,324.7 L110.5,324.6 L112.0,324.6 L113.4,324.9 L114.8,324.9 L116.2,324.7 L117.6,325.0 L119.1,325.1 L120.5,324.8 L121.9,324.7 L123.3,325.0 L124.8,324.8 L126.2,324.9 L127.6,324.9 L129.0,325.1 L130.4,324.7 L131.9,325.0 L133.3,325.0 L134.7,325.1 L136.1,324.8 L137.6,325.1 L139.0,324.7 L140.4,324.8 L141.8,324.7 L143.2,324.5 L144.7,324.5 L146.1,324.5 L147.5,324.6 L148.9,324.6 L150.4,324.7 L151.8,324.6 L153.2,324.9 L154.6,324.7 L156.1,324.6 L157.5,324.7 L158.9,324.5 L160.3,324.7 L161.7,324.9 L163.2,324.8 L164.6,325.3 L166.0,325.2 L167.4,324.5 L168.9,324.3 L170.3,324.3 L171.7,324.2 L172.1,331.3 L172.4,335.2 L172.8,337.4 L173.1,338.9 L173.5,339.6 L173.8,340.1 L174.2,340.8 L174.5,341.3 L174.9,341.9 L175.3,342.3 L175.6,342.7 L176.0,343.3 L176.3,344.0 L176.7,344.7 L177.0,345.3 L177.4,345.9 L178.8,348.2 L180.2,350.2 L181.7,352.0 L183.1,354.0 L184.5,355.5 L185.9,357.1 L187.3,358.3 L188.8,359.6 L190.2,361.1 L191.6,362.5 L193.0,363.4 L194.5,364.5 L195.9,365.6 L197.3,366.3 L198.7,367.5 L200.2,368.6 L201.6,369.3 L203.0,369.8 L204.4,370.6 L205.8,371.0 L207.3,371.3 L208.7,372.4 L210.1,373.3 L211.5,373.7 L213.0,374.0 L214.4,374.8 L215.8,375.2 L217.2,375.2 L218.6,375.7 L220.1,376.4 L221.5,376.5 L222.9,376.3 L224.3,377.4 L225.8,377.5 L227.2,377.5 L228.6,378.1 L230.0,378.4 L231.4,378.5 L232.9,378.7 L234.3,379.0 L235.7,378.3 L237.1,378.8 L238.6,378.6 L240.0,378.8 L241.4,379.1 L242.8,379.8 L244.2,379.9 L245.7,380.1 L247.1,380.6 L248.5,380.5 L249.9,380.3 L251.4,380.4 L252.8,380.1 L254.2,380.1 L255.6,380.0 L257.1,380.3 L258.5,380.2 L259.9,381.0 L261.3,380.9 L262.7,381.3 L264.2,381.3 L265.6,381.6 L267.0,381.4 L268.4,381.6 L269.9,382.0 L271.3,382.1 L272.7,382.1 L274.1,382.2 L275.5,382.3 L277.0,381.9 L278.4,381.7 L279.8,381.7 L281.2,381.7 L282.7,381.3 L284.1,381.1 L285.5,381.1" fill="none" stroke="#7020a0" stroke-width="0.75" stroke-linejoin="round"/>
<path d="M84.9,382.2 L86.3,382.1 L86.7,372.9 L87.1,365.5 L87.4,358.8 L87.8,353.5 L88.1,348.9 L88.5,345.0 L88.8,341.7 L89.2,339.1 L89.6,337.1 L89.9,335.6 L90.3,334.4 L90.6,333.1 L92.0,329.6 L93.5,327.9 L94.9,326.8 L96.3,326.5 L97.7,326.6 L99.2,326.9 L100.6,326.5 L102.0,326.6 L103.4,326.2 L104.8,326.3 L106.3,326.2 L107.7,326.2 L109.1,326.2 L110.5,326.4 L112.0,326.4 L113.4,326.8 L114.8,327.1 L116.2,327.2 L117.6,326.8 L119.1,326.8 L120.5,326.3 L121.9,326.2 L123.3,326.1 L124.8,326.5 L126.2,326.6 L127.6,326.7 L129.0,326.7 L130.4,327.1 L131.9,327.1 L133.3,326.9 L134.7,327.0 L136.1,326.8 L137.6,326.6 L139.0,326.6 L140.4,326.6 L141.8,326.9 L143.2,326.9 L144.7,327.2 L146.1,327.5 L147.5,327.6 L148.9,327.6 L150.4,327.9 L151.8,327.9 L153.2,327.7 L154.6,328.0 L156.1,327.7 L157.5,328.0 L158.9,327.6 L160.3,327.7 L161.7,327.4 L163.2,327.5 L164.6,327.2 L166.0,327.6 L167.4,328.0 L168.9,328.0 L170.3,328.2 L171.7,328.3 L172.1,334.5 L172.4,337.9 L172.8,340.1 L173.1,341.4 L173.5,342.5 L173.8,343.4 L174.2,343.8 L174.5,344.5 L174.9,345.3 L175.3,345.6 L175.6,346.5 L176.0,347.0 L176.3,347.4 L176.7,348.2 L177.0,349.1 L177.4,349.6 L178.8,351.9 L180.2,354.0 L181.7,355.5 L183.1,356.9 L184.5,358.7 L185.9,360.4 L187.3,361.9 L188.8,363.5 L190.2,364.8 L191.6,366.2 L193.0,367.1 L194.5,368.3 L195.9,369.6 L197.3,370.5 L198.7,371.0 L200.2,371.9 L201.6,372.7 L203.0,373.1 L204.4,373.7 L205.8,374.4 L207.3,375.6 L208.7,376.1 L210.1,376.7 L211.5,377.4 L213.0,377.8 L214.4,377.7 L215.8,378.0 L217.2,377.9 L218.6,378.5 L220.1,378.3 L221.5,378.5 L222.9,378.8 L224.3,379.0 L225.8,378.9 L227.2,379.6 L228.6,379.6 L230.0,379.9 L231.4,380.4 L232.9,380.4 L234.3,380.4 L235.7,380.9 L237.1,380.6 L238.6,380.3 L240.0,380.6 L241.4,381.0 L242.8,380.9 L244.2,381.0 L245.7,381.1 L247.1,380.9 L248.5,380.6 L249.9,380.7 L251.4,380.9 L252.8,380.8 L254.2,381.4 L255.6,381.2 L257.1,381.6 L258.5,381.5 L259.9,381.9 L261.3,381.7 L262.7,381.8 L264.2,381.6 L265.6,381.7 L267.0,381.6 L268.4,381.6 L269.9,381.9 L271.3,381.9 L272.7,382.3 L274.1,381.9 L275.5,382.0 L277.0,381.9 L278.4,382.0 L279.8,381.5 L281.2,382.1 L282.7,381.8 L284.1,381.6 L285.5,381.3" fill="none" stroke="#30a030" stroke-width="0.75" stroke-linejoin="round"/>
<path d="M84.9,382.4 L86.3,382.6 L86.7,374.7 L87.1,368.7 L87.4,363.0 L87.8,358.3 L88.1,354.2 L88.5,350.8 L88.8,347.0 L89.2,344.3 L89.6,341.9 L89.9,339.8 L90.3,338.1 L90.6,337.1 L92.0,333.1 L93.5,331.1 L94.9,330.3 L96.3,329.7 L97.7,329.0 L99.2,328.8 L100.6,328.6 L102.0,328.4 L103.4,328.6 L104.8,328.6 L106.3,328.5 L107.7,328.0 L109.1,327.8 L110.5,327.8 L112.0,328.0 L113.4,328.3 L114.8,328.6 L116.2,328.5 L117.6,328.2 L119.1,328.6 L120.5,328.6 L121.9,328.9 L123.3,329.2 L124.8,329.4 L126.2,328.9 L127.6,328.4 L129.0,328.3 L130.4,328.6 L131.9,328.2 L133.3,328.2 L134.7,328.7 L136.1,328.9 L137.6,329.1 L139.0,329.9 L140.4,330.0 L141.8,329.8 L143.2,329.3 L144.7,329.0 L146.1,328.7 L147.5,328.9 L148.9,328.5 L150.4,329.0 L151.8,329.0 L153.2,328.8 L154.6,328.6 L156.1,329.0 L157.5,328.6 L158.9,328.5 L160.3,328.5 L161.7,328.7 L163.2,328.7 L164.6,329.0 L166.0,329.2 L167.4,329.2 L168.9,329.1 L170.3,328.8 L171.7,328.4 L172.1,334.8 L172.4,338.0 L172.8,340.0 L173.1,341.4 L173.5,342.6 L173.8,343.3 L174.2,344.2 L174.5,345.1 L174.9,345.7 L175.3,346.1 L175.6,346.7 L176.0,347.1 L176.3,347.5 L176.7,348.3 L177.0,349.5 L177.4,350.1 L178.8,352.3 L180.2,354.5 L181.7,356.5 L183.1,357.7 L184.5,359.8 L185.9,361.0 L187.3,362.3 L188.8,363.0 L190.2,364.6 L191.6,365.4 L193.0,366.9 L194.5,368.0 L195.9,369.4 L197.3,370.3 L198.7,370.9 L200.2,371.7 L201.6,372.6 L203.0,373.1 L204.4,373.7 L205.8,374.5 L207.3,374.8 L208.7,375.3 L210.1,376.1 L211.5,376.4 L213.0,376.8 L214.4,376.9 L215.8,377.4 L217.2,377.3 L218.6,377.7 L220.1,378.1 L221.5,378.7 L222.9,378.7 L224.3,378.9 L225.8,378.7 L227.2,378.9 L228.6,378.8 L230.0,378.8 L231.4,379.0 L232.9,379.6 L234.3,379.5 L235.7,379.9 L237.1,380.1 L238.6,380.4 L240.0,380.3 L241.4,380.3 L242.8,380.2 L244.2,380.4 L245.7,380.2 L247.1,380.1 L248.5,380.6 L249.9,380.6 L251.4,380.8 L252.8,381.0 L254.2,381.2 L255.6,380.8 L257.1,381.1 L258.5,380.9 L259.9,381.2 L261.3,381.6 L262.7,381.8 L264.2,381.9 L265.6,382.0 L267.0,381.8 L268.4,381.7 L269.9,381.9 L271.3,382.0 L272.7,381.6 L274.1,381.4 L275.5,381.3 L277.0,381.6 L278.4,381.4 L279.8,381.8 L281.2,382.0 L282.7,381.8 L284.1,381.6 L285.5,381.5" fill="none" stroke="#206020" stroke-width="0.75" stroke-linejoin="round"/>
<path d="M84.9,382.3 L86.3,382.5 L86.7,376.5 L87.1,371.4 L87.4,366.6 L87.8,362.2 L88.1,358.3 L88.5,354.7 L88.8,351.7 L89.2,349.2 L89.6,346.7 L89.9,344.5 L90.3,343.0 L90.6,340.9 L92.0,335.8 L93.5,332.6 L94.9,330.6 L96.3,329.2 L97.7,328.3 L99.2,328.0 L100.6,328.2 L102.0,328.4 L103.4,328.8 L104.8,329.2 L106.3,329.7 L107.7,329.7 L109.1,329.7 L110.5,329.5 L112.0,329.7 L113.4,329.2 L114.8,329.4 L116.2,329.6 L117.6,330.2 L119.1,330.4 L120.5,330.9 L121.9,330.6 L123.3,330.5 L124.8,330.5 L126.2,330.3 L127.6,330.1 L129.0,330.5 L130.4,330.7 L131.9,330.6 L133.3,330.8 L134.7,331.3 L136.1,331.3 L137.6,331.1 L139.0,330.9 L140.4,330.8 L141.8,330.7 L143.2,330.8 L144.7,330.9 L146.1,331.1 L147.5,331.2 L148.9,331.0 L150.4,331.0 L151.8,331.1 L153.2,331.3 L154.6,331.5 L156.1,331.6 L157.5,331.4 L158.9,331.7 L160.3,331.7 L161.7,331.3 L163.2,331.4 L164.6,331.6 L166.0,331.1 L167.4,330.9 L168.9,330.9 L170.3,331.0 L171.7,330.6 L172.1,337.4 L172.4,340.8 L172.8,342.8 L173.1,343.6 L173.5,345.0 L173.8,345.6 L174.2,346.1 L174.5,347.3 L174.9,348.0 L175.3,348.4 L175.6,348.9 L176.0,349.4 L176.3,349.5 L176.7,350.2 L177.0,350.7 L177.4,350.9 L178.8,353.2 L180.2,355.2 L181.7,357.2 L183.1,358.8 L184.5,360.7 L185.9,362.0 L187.3,363.4 L188.8,364.5 L190.2,365.6 L191.6,366.6 L193.0,367.5 L194.5,368.3 L195.9,369.0 L197.3,370.1 L198.7,370.7 L200.2,371.6 L201.6,372.5 L203.0,373.3 L204.4,373.9 L205.8,374.6 L207.3,375.0 L208.7,375.5 L210.1,376.3 L211.5,377.0 L213.0,377.4 L214.4,378.1 L215.8,378.3 L217.2,378.2 L218.6,377.9 L220.1,378.0 L221.5,378.1 L222.9,378.4 L224.3,378.6 L225.8,378.9 L227.2,378.9 L228.6,379.5 L230.0,379.4 L231.4,379.4 L232.9,379.6 L234.3,380.2 L235.7,380.1 L237.1,380.2 L238.6,380.5 L240.0,380.9 L241.4,380.9 L242.8,380.8 L244.2,381.2 L245.7,381.1 L247.1,381.0 L248.5,380.9 L249.9,381.3 L251.4,381.2 L252.8,381.4 L254.2,381.8 L255.6,381.5 L257.1,381.5 L258.5,381.7 L259.9,381.8 L261.3,381.5 L262.7,381.8 L264.2,381.6 L265.6,381.5 L267.0,381.5 L268.4,381.8 L269.9,382.4 L271.3,382.2 L272.7,382.1 L274.1,382.0 L275.5,382.1 L277.0,381.6 L278.4,381.8 L279.8,381.8 L281.2,381.7 L282.7,381.9 L284.1,381.9 L285.5,382.1" fill="none" stroke="#d02020" stroke-width="0.75" stroke-linejoin="round"/>
<path d="M447.2,379.4 L448.6,379.5 L449.0,317.7 L449.3,314.6 L449.7,314.4 L450.0,314.5 L450.4,314.4 L450.8,314.3 L451.1,314.4 L451.5,314.3 L451.8,314.3 L452.2,314.4 L452.6,314.3 L452.9,314.1 L454.4,314.2 L455.8,314.1 L457.2,314.2 L458.7,314.1 L460.1,314.3 L461.5,314.3 L463.0,314.4 L464.4,314.3 L465.9,314.5 L467.3,314.5 L468.7,314.4 L470.2,314.3 L471.6,314.3 L473.0,314.2 L474.5,314.3 L475.9,314.4 L477.4,314.4 L478.8,314.3 L480.2,314.3 L481.7,314.3 L483.1,314.3 L484.6,314.3 L486.0,314.3 L487.4,314.3 L488.9,314.2 L490.3,314.3 L491.7,314.3 L493.2,314.4 L494.6,314.4 L496.1,314.4 L497.5,314.3 L498.9,314.3 L500.4,314.3 L501.8,314.2 L503.2,314.1 L504.7,314.1 L506.1,314.2 L507.6,314.2 L509.0,314.3 L510.4,314.4 L511.9,314.4 L513.3,314.4 L514.7,314.3 L516.2,314.2 L517.6,314.1 L519.1,314.1 L520.5,314.2 L521.9,314.3 L523.4,314.3 L524.8,314.5 L526.3,314.4 L527.7,314.5 L529.1,314.5 L530.6,314.5 L532.0,314.4 L533.4,314.4 L534.9,314.3 L535.2,320.3 L535.6,323.8 L536.0,326.1 L536.3,327.9 L536.7,329.3 L537.0,330.7 L537.4,332.0 L537.8,333.1 L538.1,334.2 L538.5,335.4 L538.8,336.4 L539.2,337.4 L539.6,338.3 L539.9,339.2 L540.3,340.1 L540.6,341.0 L542.1,344.6 L543.5,347.9 L544.9,350.7 L546.4,353.4 L547.8,355.7 L549.3,357.9 L550.7,359.7 L552.1,361.6 L553.6,363.1 L555.0,364.5 L556.5,365.8 L557.9,367.0 L559.3,368.1 L560.8,369.2 L562.2,370.2 L563.6,370.9 L565.1,371.7 L566.5,372.5 L568.0,373.0 L569.4,373.6 L570.8,374.1 L572.3,374.6 L573.7,374.9 L575.1,375.3 L576.6,375.6 L578.0,375.7 L579.5,376.0 L580.9,376.2 L582.3,376.4 L583.8,376.6 L585.2,376.9 L586.6,377.1 L588.1,377.2 L589.5,377.3 L591.0,377.4 L592.4,377.5 L593.8,377.5 L595.3,377.6 L596.7,377.7 L598.2,377.7 L599.6,377.9 L601.0,378.0 L602.5,378.1 L603.9,378.1 L605.3,378.3 L606.8,378.4 L608.2,378.5 L609.7,378.6 L611.1,378.6 L612.5,378.5 L614.0,378.6 L615.4,378.6 L616.8,378.6 L618.3,378.6 L619.7,378.6 L621.2,378.4 L622.6,378.5 L624.0,378.6 L625.5,378.6 L626.9,378.6 L628.4,378.7 L629.8,378.7 L631.2,378.6 L632.7,378.7 L634.1,378.6 L635.5,378.6 L637.0,378.6 L638.4,378.5 L639.9,378.5 L641.3,378.5 L642.7,378.5 L644.2,378.5 L645.6,378.7 L647.0,378.7 L648.5,378.7 L649.9,378.7" fill="none" stroke="#000" stroke-width="0.75" stroke-linejoin="round"/>
<path d="M447.2,379.4 L448.6,379.5 L449.0,319.5 L449.3,316.6 L449.7,316.3 L450.0,316.4 L450.4,316.3 L450.8,316.3 L451.1,316.2 L451.5,316.3 L451.8,316.4 L452.2,316.4 L452.6,316.4 L452.9,316.6 L454.4,316.5 L455.8,316.4 L457.2,316.5 L458.7,316.5 L460.1,316.5 L461.5,316.5 L463.0,316.5 L464.4,316.4 L465.9,316.5 L467.3,316.3 L468.7,316.3 L470.2,316.4 L471.6,316.3 L473.0,316.2 L474.5,316.4 L475.9,316.4 L477.4,316.4 L478.8,316.5 L480.2,316.6 L481.7,316.4 L483.1,316.4 L484.6,316.4 L486.0,316.2 L487.4,316.2 L488.9,316.3 L490.3,316.3 L491.7,316.2 L493.2,316.3 L494.6,316.3 L496.1,316.2 L497.5,316.1 L498.9,316.3 L500.4,316.2 L501.8,316.3 L503.2,316.4 L504.7,316.4 L506.1,316.3 L507.6,316.4 L509.0,316.3 L510.4,316.3 L511.9,316.4 L513.3,316.3 L514.7,316.3 L516.2,316.3 L517.6,316.3 L519.1,316.2 L520.5,316.3 L521.9,316.4 L523.4,316.6 L524.8,316.6 L526.3,316.5 L527.7,316.7 L529.1,316.5 L530.6,316.3 L532.0,316.2 L533.4,316.3 L534.9,316.2 L535.2,322.3 L535.6,325.9 L536.0,328.3 L536.3,330.1 L536.7,331.6 L537.0,333.0 L537.4,334.3 L537.8,335.5 L538.1,336.8 L538.5,337.9 L538.8,339.0 L539.2,340.1 L539.6,341.1 L539.9,342.2 L540.3,343.1 L540.6,344.0 L542.1,347.5 L543.5,350.8 L544.9,353.5 L546.4,356.1 L547.8,358.3 L549.3,360.4 L550.7,362.1 L552.1,363.8 L553.6,365.3 L555.0,366.7 L556.5,368.0 L557.9,369.1 L559.3,370.1 L560.8,371.0 L562.2,371.8 L563.6,372.5 L565.1,373.2 L566.5,373.7 L568.0,374.1 L569.4,374.5 L570.8,374.9 L572.3,375.3 L573.7,375.7 L575.1,376.1 L576.6,376.4 L578.0,376.6 L579.5,376.8 L580.9,377.0 L582.3,377.1 L583.8,377.3 L585.2,377.5 L586.6,377.8 L588.1,377.9 L589.5,378.0 L591.0,378.0 L592.4,378.0 L593.8,378.0 L595.3,378.1 L596.7,378.2 L598.2,378.3 L599.6,378.4 L601.0,378.5 L602.5,378.6 L603.9,378.7 L605.3,378.7 L606.8,378.7 L608.2,378.7 L609.7,378.7 L611.1,378.7 L612.5,378.8 L614.0,378.7 L615.4,378.8 L616.8,378.8 L618.3,378.9 L619.7,378.9 L621.2,378.9 L622.6,379.0 L624.0,379.0 L625.5,378.9 L626.9,378.8 L628.4,378.9 L629.8,378.8 L631.2,378.7 L632.7,378.8 L634.1,378.8 L635.5,378.7 L637.0,378.7 L638.4,378.7 L639.9,378.7 L641.3,378.7 L642.7,378.6 L644.2,378.6 L645.6,378.6 L647.0,378.7 L648.5,378.6 L649.9,378.7" fill="none" stroke="#000" stroke-width="0.75" stroke-linejoin="round"/>
<path d="M447.2,379.4 L448.6,379.5 L449.0,321.9 L449.3,318.8 L449.7,318.7 L450.0,318.8 L450.4,318.8 L450.8,318.7 L451.1,318.9 L451.5,318.9 L451.8,318.8 L452.2,318.7 L452.6,318.6 L452.9,318.5 L454.4,318.4 L455.8,318.6 L457.2,318.6 L458.7,318.6 L460.1,318.6 L461.5,318.8 L463.0,318.6 L464.4,318.6 L465.9,318.7 L467.3,318.7 L468.7,318.6 L470.2,318.6 L471.6,318.7 L473.0,318.6 L474.5,318.6 L475.9,318.6 L477.4,318.7 L478.8,318.8 L480.2,318.7 L481.7,318.7 L483.1,318.6 L484.6,318.5 L486.0,318.3 L487.4,318.5 L488.9,318.5 L490.3,318.6 L491.7,318.8 L493.2,318.9 L494.6,318.8 L496.1,318.9 L497.5,318.9 L498.9,318.8 L500.4,318.7 L501.8,318.8 L503.2,318.7 L504.7,318.8 L506.1,318.9 L507.6,319.0 L509.0,318.8 L510.4,318.8 L511.9,318.6 L513.3,318.6 L514.7,318.6 L516.2,318.6 L517.6,318.7 L519.1,318.8 L520.5,318.8 L521.9,318.6 L523.4,318.7 L524.8,318.4 L526.3,318.4 L527.7,318.3 L529.1,318.4 L530.6,318.4 L532.0,318.5 L533.4,318.6 L534.9,318.6 L535.2,324.6 L535.6,327.8 L536.0,330.1 L536.3,331.9 L536.7,333.2 L537.0,334.4 L537.4,335.7 L537.8,336.6 L538.1,337.6 L538.5,338.6 L538.8,339.7 L539.2,340.7 L539.6,341.8 L539.9,342.7 L540.3,343.4 L540.6,344.2 L542.1,347.5 L543.5,350.4 L544.9,353.1 L546.4,355.7 L547.8,357.8 L549.3,359.7 L550.7,361.6 L552.1,363.2 L553.6,364.7 L555.0,366.0 L556.5,367.3 L557.9,368.4 L559.3,369.5 L560.8,370.4 L562.2,371.2 L563.6,372.0 L565.1,372.6 L566.5,373.0 L568.0,373.5 L569.4,374.1 L570.8,374.5 L572.3,374.9 L573.7,375.4 L575.1,375.8 L576.6,375.9 L578.0,376.2 L579.5,376.5 L580.9,376.7 L582.3,376.9 L583.8,377.1 L585.2,377.3 L586.6,377.5 L588.1,377.7 L589.5,377.9 L591.0,378.0 L592.4,378.3 L593.8,378.2 L595.3,378.3 L596.7,378.4 L598.2,378.3 L599.6,378.4 L601.0,378.4 L602.5,378.4 L603.9,378.4 L605.3,378.5 L606.8,378.4 L608.2,378.5 L609.7,378.4 L611.1,378.6 L612.5,378.7 L614.0,378.7 L615.4,378.7 L616.8,378.7 L618.3,378.6 L619.7,378.5 L621.2,378.5 L622.6,378.5 L624.0,378.6 L625.5,378.6 L626.9,378.6 L628.4,378.7 L629.8,378.8 L631.2,378.8 L632.7,378.9 L634.1,378.9 L635.5,378.8 L637.0,378.6 L638.4,378.6 L639.9,378.5 L641.3,378.5 L642.7,378.8 L644.2,379.0 L645.6,379.0 L647.0,378.9 L648.5,378.9 L649.9,378.8" fill="none" stroke="#000" stroke-width="0.75" stroke-linejoin="round"/>
<path d="M447.2,379.5 L448.6,379.6 L449.0,324.1 L449.3,321.3 L449.7,321.1 L450.0,321.0 L450.4,320.9 L450.8,320.9 L451.1,320.9 L451.5,321.1 L451.8,321.0 L452.2,321.2 L452.6,321.0 L452.9,321.0 L454.4,321.0 L455.8,321.0 L457.2,321.0 L458.7,321.1 L460.1,321.2 L461.5,321.1 L463.0,320.9 L464.4,321.0 L465.9,321.0 L467.3,320.9 L468.7,321.0 L470.2,321.1 L471.6,321.1 L473.0,321.2 L474.5,321.1 L475.9,321.0 L477.4,321.1 L478.8,321.0 L480.2,320.9 L481.7,320.9 L483.1,320.9 L484.6,320.9 L486.0,321.0 L487.4,321.0 L488.9,321.1 L490.3,321.2 L491.7,321.1 L493.2,321.1 L494.6,321.1 L496.1,321.3 L497.5,321.1 L498.9,321.2 L500.4,321.2 L501.8,321.2 L503.2,321.1 L504.7,321.2 L506.1,321.2 L507.6,321.2 L509.0,321.1 L510.4,321.1 L511.9,321.0 L513.3,321.0 L514.7,320.9 L516.2,320.9 L517.6,320.9 L519.1,320.9 L520.5,321.0 L521.9,321.1 L523.4,321.0 L524.8,321.0 L526.3,321.1 L527.7,321.1 L529.1,321.2 L530.6,321.2 L532.0,321.1 L533.4,321.1 L534.9,321.1 L535.2,326.5 L535.6,329.7 L536.0,331.9 L536.3,333.5 L536.7,334.7 L537.0,335.9 L537.4,337.1 L537.8,338.0 L538.1,339.0 L538.5,340.0 L538.8,340.9 L539.2,341.7 L539.6,342.6 L539.9,343.6 L540.3,344.3 L540.6,345.0 L542.1,348.3 L543.5,351.1 L544.9,353.6 L546.4,356.1 L547.8,358.2 L549.3,360.1 L550.7,361.9 L552.1,363.5 L553.6,364.9 L555.0,366.3 L556.5,367.3 L557.9,368.3 L559.3,369.3 L560.8,370.3 L562.2,371.0 L563.6,371.8 L565.1,372.6 L566.5,373.1 L568.0,373.7 L569.4,374.2 L570.8,374.7 L572.3,375.0 L573.7,375.4 L575.1,375.8 L576.6,376.1 L578.0,376.3 L579.5,376.5 L580.9,376.8 L582.3,376.9 L583.8,377.2 L585.2,377.3 L586.6,377.4 L588.1,377.4 L589.5,377.4 L591.0,377.4 L592.4,377.5 L593.8,377.7 L595.3,377.9 L596.7,378.0 L598.2,378.0 L599.6,378.1 L601.0,378.2 L602.5,378.1 L603.9,378.2 L605.3,378.4 L606.8,378.3 L608.2,378.2 L609.7,378.3 L611.1,378.4 L612.5,378.3 L614.0,378.4 L615.4,378.5 L616.8,378.3 L618.3,378.4 L619.7,378.4 L621.2,378.3 L622.6,378.4 L624.0,378.5 L625.5,378.5 L626.9,378.6 L628.4,378.7 L629.8,378.7 L631.2,378.7 L632.7,378.7 L634.1,378.6 L635.5,378.6 L637.0,378.6 L638.4,378.7 L639.9,378.7 L641.3,378.8 L642.7,378.7 L644.2,378.8 L645.6,378.8 L647.0,378.8 L648.5,378.9 L649.9,378.9" fill="none" stroke="#000" stroke-width="0.75" stroke-linejoin="round"/>
<path d="M447.2,379.4 L448.6,379.4 L449.0,329.7 L449.3,327.2 L449.7,327.2 L450.0,327.2 L450.4,327.1 L450.8,327.1 L451.1,326.9 L451.5,326.9 L451.8,326.9 L452.2,327.2 L452.6,327.1 L452.9,327.3 L454.4,327.3 L455.8,327.2 L457.2,327.0 L458.7,327.1 L460.1,327.0 L461.5,327.0 L463.0,327.1 L464.4,327.1 L465.9,327.1 L467.3,327.0 L468.7,327.1 L470.2,327.1 L471.6,327.1 L473.0,327.1 L474.5,327.3 L475.9,327.2 L477.4,327.2 L478.8,327.1 L480.2,327.1 L481.7,327.0 L483.1,327.0 L484.6,327.0 L486.0,327.0 L487.4,327.0 L488.9,327.2 L490.3,327.2 L491.7,327.2 L493.2,327.2 L494.6,327.1 L496.1,327.0 L497.5,326.9 L498.9,326.9 L500.4,326.9 L501.8,326.9 L503.2,326.8 L504.7,326.8 L506.1,326.9 L507.6,326.9 L509.0,327.1 L510.4,327.1 L511.9,327.1 L513.3,327.1 L514.7,327.1 L516.2,327.1 L517.6,327.1 L519.1,327.0 L520.5,327.2 L521.9,327.2 L523.4,327.2 L524.8,327.2 L526.3,327.2 L527.7,327.1 L529.1,327.0 L530.6,326.9 L532.0,326.8 L533.4,326.9 L534.9,327.0 L535.2,332.0 L535.6,335.0 L536.0,336.9 L536.3,338.4 L536.7,339.3 L537.0,340.4 L537.4,341.3 L537.8,342.3 L538.1,343.2 L538.5,344.2 L538.8,345.0 L539.2,345.9 L539.6,346.7 L539.9,347.5 L540.3,348.4 L540.6,349.2 L542.1,352.0 L543.5,354.6 L544.9,356.9 L546.4,358.9 L547.8,360.8 L549.3,362.4 L550.7,363.9 L552.1,365.3 L553.6,366.6 L555.0,367.7 L556.5,369.0 L557.9,370.1 L559.3,371.0 L560.8,371.7 L562.2,372.4 L563.6,372.9 L565.1,373.4 L566.5,373.8 L568.0,374.4 L569.4,374.7 L570.8,375.0 L572.3,375.2 L573.7,375.6 L575.1,375.8 L576.6,376.2 L578.0,376.5 L579.5,376.9 L580.9,377.1 L582.3,377.4 L583.8,377.5 L585.2,377.6 L586.6,377.6 L588.1,377.6 L589.5,377.6 L591.0,377.6 L592.4,377.7 L593.8,377.8 L595.3,377.9 L596.7,378.0 L598.2,378.2 L599.6,378.2 L601.0,378.1 L602.5,378.3 L603.9,378.2 L605.3,378.1 L606.8,378.3 L608.2,378.4 L609.7,378.4 L611.1,378.5 L612.5,378.5 L614.0,378.6 L615.4,378.6 L616.8,378.6 L618.3,378.6 L619.7,378.6 L621.2,378.4 L622.6,378.5 L624.0,378.6 L625.5,378.6 L626.9,378.6 L628.4,378.6 L629.8,378.6 L631.2,378.6 L632.7,378.5 L634.1,378.6 L635.5,378.7 L637.0,378.6 L638.4,378.5 L639.9,378.8 L641.3,378.6 L642.7,378.7 L644.2,378.9 L645.6,378.9 L647.0,378.7 L648.5,378.7 L649.9,378.6" fill="none" stroke="#000" stroke-width="0.75" stroke-linejoin="round"/>
<path d="M447.2,379.4 L448.6,379.5 L449.0,333.6 L449.3,331.4 L449.7,331.3 L450.0,331.3 L450.4,331.3 L450.8,331.3 L451.1,331.1 L451.5,331.0 L451.8,331.0 L452.2,331.1 L452.6,331.1 L452.9,331.2 L454.4,331.2 L455.8,331.2 L457.2,331.2 L458.7,331.1 L460.1,331.2 L461.5,331.1 L463.0,331.1 L464.4,331.1 L465.9,331.1 L467.3,331.1 L468.7,331.0 L470.2,331.0 L471.6,331.0 L473.0,331.1 L474.5,331.0 L475.9,331.1 L477.4,331.1 L478.8,331.1 L480.2,330.9 L481.7,330.9 L483.1,330.9 L484.6,331.0 L486.0,330.9 L487.4,331.0 L488.9,331.3 L490.3,331.3 L491.7,331.3 L493.2,331.3 L494.6,331.2 L496.1,331.0 L497.5,331.1 L498.9,330.9 L500.4,330.9 L501.8,331.0 L503.2,331.0 L504.7,330.9 L506.1,331.0 L507.6,331.0 L509.0,331.0 L510.4,331.0 L511.9,331.2 L513.3,331.1 L514.7,331.2 L516.2,331.1 L517.6,331.2 L519.1,331.2 L520.5,331.3 L521.9,331.2 L523.4,331.3 L524.8,331.2 L526.3,331.2 L527.7,331.1 L529.1,331.1 L530.6,331.0 L532.0,331.1 L533.4,330.9 L534.9,331.0 L535.2,335.6 L535.6,338.2 L536.0,340.0 L536.3,341.4 L536.7,342.6 L537.0,343.6 L537.4,344.8 L537.8,345.7 L538.1,346.6 L538.5,347.5 L538.8,348.4 L539.2,349.0 L539.6,349.7 L539.9,350.5 L540.3,351.1 L540.6,351.8 L542.1,354.5 L543.5,357.0 L544.9,359.1 L546.4,361.3 L547.8,363.0 L549.3,364.5 L550.7,365.9 L552.1,367.2 L553.6,368.2 L555.0,369.2 L556.5,370.2 L557.9,371.1 L559.3,371.8 L560.8,372.6 L562.2,373.2 L563.6,373.9 L565.1,374.4 L566.5,374.8 L568.0,375.2 L569.4,375.5 L570.8,375.8 L572.3,376.1 L573.7,376.4 L575.1,376.5 L576.6,376.8 L578.0,377.0 L579.5,377.2 L580.9,377.5 L582.3,377.6 L583.8,377.7 L585.2,377.6 L586.6,377.6 L588.1,377.6 L589.5,377.7 L591.0,377.8 L592.4,378.0 L593.8,378.1 L595.3,378.0 L596.7,378.2 L598.2,378.4 L599.6,378.5 L601.0,378.5 L602.5,378.6 L603.9,378.5 L605.3,378.4 L606.8,378.4 L608.2,378.4 L609.7,378.6 L611.1,378.6 L612.5,378.6 L614.0,378.6 L615.4,378.5 L616.8,378.5 L618.3,378.5 L619.7,378.5 L621.2,378.5 L622.6,378.6 L624.0,378.5 L625.5,378.5 L626.9,378.5 L628.4,378.7 L629.8,378.7 L631.2,378.6 L632.7,378.7 L634.1,378.6 L635.5,378.5 L637.0,378.7 L638.4,378.7 L639.9,378.7 L641.3,378.8 L642.7,378.8 L644.2,378.7 L645.6,378.9 L647.0,378.8 L648.5,378.8 L649.9,378.8" fill="none" stroke="#000" stroke-width="0.75" stroke-linejoin="round"/>
<path d="M447.2,379.3 L448.6,379.5 L449.0,373.3 L449.3,367.9 L449.7,363.3 L450.0,359.2 L450.4,355.6 L450.8,352.7 L451.1,350.3 L451.5,347.8 L451.8,346.0 L452.2,344.3 L452.6,342.7 L452.9,341.6 L454.4,338.4 L455.8,336.7 L457.2,335.6 L458.7,335.2 L460.1,335.0 L461.5,334.8 L463.0,334.6 L464.4,334.8 L465.9,334.7 L467.3,334.5 L468.7,334.5 L470.2,334.4 L471.6,334.4 L473.0,334.6 L474.5,334.6 L475.9,334.6 L477.4,334.7 L478.8,334.6 L480.2,334.4 L481.7,334.7 L483.1,334.8 L484.6,334.6 L486.0,334.7 L487.4,334.7 L488.9,334.4 L490.3,334.3 L491.7,334.4 L493.2,334.3 L494.6,334.4 L496.1,334.5 L497.5,334.5 L498.9,334.5 L500.4,334.4 L501.8,334.1 L503.2,334.2 L504.7,334.2 L506.1,334.1 L507.6,334.1 L509.0,334.4 L510.4,334.3 L511.9,334.3 L513.3,334.3 L514.7,334.3 L516.2,334.4 L517.6,334.3 L519.1,334.3 L520.5,334.4 L521.9,334.3 L523.4,334.1 L524.8,334.3 L526.3,334.3 L527.7,334.4 L529.1,334.6 L530.6,334.8 L532.0,334.6 L533.4,334.6 L534.9,334.6 L535.2,338.8 L535.6,341.2 L536.0,342.8 L536.3,343.9 L536.7,344.9 L537.0,345.4 L537.4,346.2 L537.8,347.0 L538.1,347.6 L538.5,348.2 L538.8,349.0 L539.2,349.7 L539.6,350.2 L539.9,350.9 L540.3,351.6 L540.6,352.0 L542.1,354.2 L543.5,356.3 L544.9,358.0 L546.4,359.6 L547.8,361.3 L549.3,362.9 L550.7,364.4 L552.1,365.7 L553.6,366.8 L555.0,367.8 L556.5,368.7 L557.9,369.6 L559.3,370.6 L560.8,371.5 L562.2,372.2 L563.6,372.7 L565.1,372.9 L566.5,373.4 L568.0,373.8 L569.4,374.2 L570.8,374.4 L572.3,375.0 L573.7,375.2 L575.1,375.3 L576.6,375.7 L578.0,376.0 L579.5,376.3 L580.9,376.7 L582.3,377.0 L583.8,377.0 L585.2,377.1 L586.6,377.1 L588.1,377.2 L589.5,377.4 L591.0,377.7 L592.4,377.9 L593.8,378.2 L595.3,378.0 L596.7,378.1 L598.2,378.0 L599.6,377.9 L601.0,378.0 L602.5,378.0 L603.9,378.0 L605.3,378.2 L606.8,378.4 L608.2,378.1 L609.7,378.3 L611.1,378.5 L612.5,378.7 L614.0,378.7 L615.4,379.0 L616.8,378.8 L618.3,378.7 L619.7,378.6 L621.2,378.7 L622.6,378.5 L624.0,378.6 L625.5,378.8 L626.9,378.9 L628.4,378.8 L629.8,378.8 L631.2,378.8 L632.7,378.6 L634.1,378.7 L635.5,378.9 L637.0,378.9 L638.4,379.0 L639.9,379.1 L641.3,379.0 L642.7,378.7 L644.2,378.8 L645.6,378.6 L647.0,378.6 L648.5,378.5 L649.9,378.5" fill="none" stroke="#000" stroke-width="0.75" stroke-linejoin="round"/>
<path d="M447.2,379.3 L448.6,379.2 L449.0,342.1 L449.3,325.1 L449.7,318.2 L450.0,315.0 L450.4,313.0 L450.8,312.2 L451.1,310.8 L451.5,310.2 L451.8,309.0 L452.2,309.3 L452.6,310.0 L452.9,310.1 L454.4,310.3 L455.8,310.8 L457.2,311.1 L458.7,310.9 L460.1,311.7 L461.5,312.5 L463.0,313.7 L464.4,314.3 L465.9,314.5 L467.3,315.3 L468.7,314.9 L470.2,314.4 L471.6,313.2 L473.0,312.2 L474.5,311.7 L475.9,311.4 L477.4,311.7 L478.8,312.5 L480.2,313.4 L481.7,313.6 L483.1,314.1 L484.6,314.7 L486.0,314.7 L487.4,314.9 L488.9,315.2 L490.3,315.4 L491.7,314.6 L493.2,315.1 L494.6,314.8 L496.1,314.1 L497.5,313.3 L498.9,314.0 L500.4,313.8 L501.8,313.8 L503.2,313.4 L504.7,314.0 L506.1,313.3 L507.6,313.9 L509.0,314.4 L510.4,314.3 L511.9,314.6 L513.3,314.0 L514.7,313.7 L516.2,313.6 L517.6,315.0 L519.1,314.6 L520.5,315.5 L521.9,314.3 L523.4,314.1 L524.8,313.5 L526.3,314.4 L527.7,314.6 L529.1,315.1 L530.6,314.8 L532.0,314.2 L533.4,313.2 L534.9,313.2 L535.2,319.5 L535.6,323.4 L536.0,327.0 L536.3,328.4 L536.7,329.7 L537.0,331.8 L537.4,333.0 L537.8,333.5 L538.1,335.0 L538.5,335.6 L538.8,337.6 L539.2,338.6 L539.6,339.1 L539.9,341.0 L540.3,343.4 L540.6,342.9 L542.1,346.6 L543.5,350.4 L544.9,353.4 L546.4,355.4 L547.8,357.8 L549.3,359.7 L550.7,360.8 L552.1,361.9 L553.6,363.5 L555.0,366.1 L556.5,367.2 L557.9,369.4 L559.3,370.6 L560.8,371.6 L562.2,371.1 L563.6,373.1 L565.1,373.7 L566.5,374.2 L568.0,374.1 L569.4,374.4 L570.8,374.0 L572.3,374.4 L573.7,374.5 L575.1,375.6 L576.6,376.6 L578.0,376.8 L579.5,376.6 L580.9,377.6 L582.3,376.7 L583.8,376.6 L585.2,377.4 L586.6,378.7 L588.1,379.1 L589.5,379.5 L591.0,379.7 L592.4,378.8 L593.8,377.8 L595.3,377.5 L596.7,377.1 L598.2,376.9 L599.6,377.1 L601.0,377.3 L602.5,377.7 L603.9,378.0 L605.3,378.9 L606.8,379.6 L608.2,380.0 L609.7,379.4 L611.1,379.6 L612.5,379.3 L614.0,379.3 L615.4,379.1 L616.8,379.5 L618.3,380.1 L619.7,379.9 L621.2,378.8 L622.6,379.1 L624.0,379.2 L625.5,378.0 L626.9,377.3 L628.4,378.1 L629.8,378.0 L631.2,377.4 L632.7,376.7 L634.1,377.4 L635.5,376.9 L637.0,376.6 L638.4,377.5 L639.9,379.3 L641.3,379.9 L642.7,380.2 L644.2,380.3 L645.6,378.7 L647.0,378.3 L648.5,377.7 L649.9,377.8" fill="none" stroke="#1a9a1a" stroke-width="0.75" stroke-linejoin="round"/>
<path d="M447.2,378.9 L448.6,378.5 L449.0,345.0 L449.3,329.6 L449.7,322.4 L450.0,318.7 L450.4,317.4 L450.8,316.1 L451.1,315.8 L451.5,315.5 L451.8,314.9 L452.2,314.6 L452.6,314.7 L452.9,314.2 L454.4,314.2 L455.8,314.2 L457.2,314.9 L458.7,314.7 L460.1,315.1 L461.5,316.0 L463.0,316.8 L464.4,316.8 L465.9,317.4 L467.3,317.9 L468.7,317.7 L470.2,317.5 L471.6,317.1 L473.0,317.3 L474.5,317.0 L475.9,316.7 L477.4,316.8 L478.8,316.9 L480.2,316.7 L481.7,316.4 L483.1,316.9 L484.6,317.1 L486.0,317.1 L487.4,317.1 L488.9,317.6 L490.3,317.3 L491.7,317.1 L493.2,316.7 L494.6,316.7 L496.1,316.6 L497.5,316.4 L498.9,316.5 L500.4,317.5 L501.8,317.4 L503.2,317.4 L504.7,317.7 L506.1,317.4 L507.6,316.9 L509.0,317.1 L510.4,317.7 L511.9,318.0 L513.3,318.2 L514.7,318.3 L516.2,318.0 L517.6,317.3 L519.1,316.9 L520.5,317.3 L521.9,317.6 L523.4,317.7 L524.8,318.2 L526.3,317.8 L527.7,317.8 L529.1,318.0 L530.6,318.1 L532.0,318.2 L533.4,318.0 L534.9,317.9 L535.2,323.3 L535.6,326.7 L536.0,328.7 L536.3,331.4 L536.7,333.1 L537.0,334.1 L537.4,334.9 L537.8,335.1 L538.1,336.1 L538.5,336.4 L538.8,337.7 L539.2,338.8 L539.6,340.6 L539.9,340.8 L540.3,341.7 L540.6,342.4 L542.1,345.6 L543.5,348.6 L544.9,351.1 L546.4,354.1 L547.8,356.0 L549.3,359.3 L550.7,361.2 L552.1,363.5 L553.6,364.9 L555.0,366.4 L556.5,366.6 L557.9,367.7 L559.3,368.0 L560.8,369.4 L562.2,370.8 L563.6,371.3 L565.1,371.9 L566.5,373.7 L568.0,373.7 L569.4,374.3 L570.8,374.7 L572.3,374.9 L573.7,374.8 L575.1,374.9 L576.6,375.1 L578.0,375.5 L579.5,375.9 L580.9,376.0 L582.3,377.1 L583.8,377.1 L585.2,378.2 L586.6,378.7 L588.1,379.4 L589.5,378.7 L591.0,379.0 L592.4,379.2 L593.8,378.9 L595.3,378.3 L596.7,378.9 L598.2,378.1 L599.6,377.2 L601.0,377.4 L602.5,377.7 L603.9,378.5 L605.3,379.0 L606.8,379.0 L608.2,379.2 L609.7,379.5 L611.1,378.7 L612.5,379.3 L614.0,379.6 L615.4,379.2 L616.8,378.4 L618.3,378.3 L619.7,377.8 L621.2,377.6 L622.6,377.4 L624.0,377.9 L625.5,378.4 L626.9,378.7 L628.4,379.3 L629.8,380.0 L631.2,380.0 L632.7,379.5 L634.1,379.2 L635.5,378.8 L637.0,378.7 L638.4,378.5 L639.9,378.3 L641.3,378.2 L642.7,377.7 L644.2,377.7 L645.6,377.9 L647.0,377.7 L648.5,377.9 L649.9,378.2" fill="none" stroke="#c09040" stroke-width="0.75" stroke-linejoin="round"/>
<path d="M447.2,379.5 L448.6,379.7 L449.0,351.3 L449.3,335.8 L449.7,327.8 L450.0,323.2 L450.4,321.3 L450.8,319.7 L451.1,319.5 L451.5,319.2 L451.8,319.3 L452.2,318.9 L452.6,319.1 L452.9,318.6 L454.4,318.6 L455.8,318.6 L457.2,319.2 L458.7,319.4 L460.1,319.7 L461.5,319.6 L463.0,319.3 L464.4,318.7 L465.9,318.7 L467.3,318.8 L468.7,319.2 L470.2,319.4 L471.6,319.6 L473.0,319.0 L474.5,318.7 L475.9,317.9 L477.4,317.4 L478.8,317.8 L480.2,318.1 L481.7,317.8 L483.1,318.0 L484.6,318.6 L486.0,318.0 L487.4,318.5 L488.9,318.9 L490.3,319.3 L491.7,318.8 L493.2,319.1 L494.6,318.7 L496.1,318.7 L497.5,318.9 L498.9,319.4 L500.4,319.1 L501.8,319.6 L503.2,319.5 L504.7,319.5 L506.1,319.8 L507.6,320.0 L509.0,319.8 L510.4,320.3 L511.9,320.6 L513.3,320.4 L514.7,320.4 L516.2,320.4 L517.6,320.1 L519.1,320.1 L520.5,319.9 L521.9,319.9 L523.4,319.7 L524.8,319.9 L526.3,319.4 L527.7,319.5 L529.1,319.3 L530.6,319.3 L532.0,319.1 L533.4,319.3 L534.9,319.1 L535.2,324.7 L535.6,328.2 L536.0,330.2 L536.3,331.5 L536.7,333.1 L537.0,335.0 L537.4,335.4 L537.8,337.2 L538.1,338.3 L538.5,339.3 L538.8,339.6 L539.2,341.2 L539.6,341.5 L539.9,342.3 L540.3,342.9 L540.6,344.2 L542.1,347.1 L543.5,349.9 L544.9,352.4 L546.4,355.1 L547.8,357.1 L549.3,359.4 L550.7,361.5 L552.1,363.4 L553.6,364.6 L555.0,365.5 L556.5,366.7 L557.9,367.4 L559.3,368.1 L560.8,369.2 L562.2,370.4 L563.6,371.0 L565.1,372.0 L566.5,373.3 L568.0,373.4 L569.4,373.9 L570.8,374.4 L572.3,375.0 L573.7,375.1 L575.1,375.4 L576.6,376.1 L578.0,376.6 L579.5,376.2 L580.9,376.0 L582.3,376.1 L583.8,376.1 L585.2,375.8 L586.6,376.5 L588.1,377.0 L589.5,377.7 L591.0,377.5 L592.4,377.4 L593.8,377.2 L595.3,377.5 L596.7,377.5 L598.2,377.5 L599.6,378.1 L601.0,378.2 L602.5,378.0 L603.9,377.6 L605.3,378.4 L606.8,378.6 L608.2,379.1 L609.7,379.0 L611.1,378.8 L612.5,378.1 L614.0,377.8 L615.4,377.1 L616.8,378.1 L618.3,378.9 L619.7,379.9 L621.2,379.9 L622.6,380.4 L624.0,379.8 L625.5,379.7 L626.9,379.0 L628.4,378.7 L629.8,378.5 L631.2,378.3 L632.7,377.6 L634.1,377.6 L635.5,377.7 L637.0,377.9 L638.4,377.7 L639.9,378.1 L641.3,378.0 L642.7,377.9 L644.2,377.2 L645.6,377.2 L647.0,377.5 L648.5,377.5 L649.9,377.5" fill="none" stroke="#20a0a0" stroke-width="0.75" stroke-linejoin="round"/>
<path d="M447.2,379.0 L448.6,377.9 L449.0,354.4 L449.3,340.8 L449.7,332.7 L450.0,328.0 L450.4,325.0 L450.8,323.2 L451.1,321.5 L451.5,321.0 L451.8,320.8 L452.2,321.0 L452.6,320.6 L452.9,321.0 L454.4,321.1 L455.8,320.8 L457.2,320.4 L458.7,320.5 L460.1,320.3 L461.5,319.2 L463.0,319.3 L464.4,319.2 L465.9,319.5 L467.3,319.5 L468.7,319.9 L470.2,319.6 L471.6,319.8 L473.0,320.2 L474.5,320.0 L475.9,319.9 L477.4,321.0 L478.8,321.1 L480.2,321.1 L481.7,321.1 L483.1,321.3 L484.6,321.1 L486.0,321.2 L487.4,320.8 L488.9,321.5 L490.3,321.5 L491.7,321.4 L493.2,320.5 L494.6,320.4 L496.1,320.0 L497.5,320.3 L498.9,320.3 L500.4,321.1 L501.8,321.4 L503.2,320.9 L504.7,321.3 L506.1,321.3 L507.6,320.6 L509.0,320.5 L510.4,321.0 L511.9,320.8 L513.3,321.0 L514.7,321.9 L516.2,321.8 L517.6,321.5 L519.1,321.5 L520.5,321.7 L521.9,321.3 L523.4,321.8 L524.8,321.3 L526.3,321.3 L527.7,320.8 L529.1,320.4 L530.6,320.0 L532.0,320.6 L533.4,321.1 L534.9,320.7 L535.2,326.3 L535.6,329.7 L536.0,331.7 L536.3,332.9 L536.7,334.8 L537.0,336.5 L537.4,337.2 L537.8,338.0 L538.1,338.6 L538.5,339.0 L538.8,339.3 L539.2,340.3 L539.6,341.5 L539.9,342.2 L540.3,342.9 L540.6,343.7 L542.1,346.3 L543.5,348.9 L544.9,351.9 L546.4,354.2 L547.8,356.6 L549.3,358.8 L550.7,360.5 L552.1,361.8 L553.6,363.7 L555.0,365.0 L556.5,366.8 L557.9,367.3 L559.3,368.2 L560.8,369.7 L562.2,370.6 L563.6,371.2 L565.1,372.7 L566.5,374.1 L568.0,374.0 L569.4,373.8 L570.8,374.0 L572.3,374.0 L573.7,373.5 L575.1,374.4 L576.6,374.9 L578.0,375.6 L579.5,376.3 L580.9,376.8 L582.3,376.3 L583.8,376.8 L585.2,376.6 L586.6,376.8 L588.1,376.9 L589.5,377.4 L591.0,377.3 L592.4,377.0 L593.8,376.7 L595.3,376.8 L596.7,376.9 L598.2,376.8 L599.6,377.2 L601.0,377.5 L602.5,377.0 L603.9,376.6 L605.3,376.9 L606.8,377.1 L608.2,377.3 L609.7,377.6 L611.1,378.2 L612.5,378.1 L614.0,378.4 L615.4,378.2 L616.8,378.4 L618.3,378.2 L619.7,378.5 L621.2,378.1 L622.6,378.5 L624.0,379.0 L625.5,379.1 L626.9,378.6 L628.4,378.8 L629.8,378.8 L631.2,378.6 L632.7,378.6 L634.1,378.8 L635.5,378.9 L637.0,378.5 L638.4,378.2 L639.9,378.4 L641.3,379.0 L642.7,378.9 L644.2,379.3 L645.6,379.2 L647.0,379.6 L648.5,379.0 L649.9,378.7" fill="none" stroke="#c040c0" stroke-width="0.75" stroke-linejoin="round"/>
<path d="M447.2,379.3 L448.6,379.8 L449.0,357.6 L449.3,343.2 L449.7,334.7 L450.0,329.9 L450.4,326.8 L450.8,324.7 L451.1,323.9 L451.5,323.4 L451.8,322.6 L452.2,322.7 L452.6,322.6 L452.9,321.8 L454.4,321.7 L455.8,322.0 L457.2,321.3 L458.7,321.6 L460.1,322.4 L461.5,323.1 L463.0,323.6 L464.4,323.8 L465.9,323.3 L467.3,323.1 L468.7,322.8 L470.2,322.3 L471.6,322.3 L473.0,322.5 L474.5,322.9 L475.9,322.9 L477.4,323.8 L478.8,323.9 L480.2,324.3 L481.7,323.9 L483.1,323.4 L484.6,322.2 L486.0,322.2 L487.4,321.9 L488.9,321.7 L490.3,322.3 L491.7,322.7 L493.2,322.3 L494.6,322.6 L496.1,322.9 L497.5,322.7 L498.9,322.4 L500.4,322.8 L501.8,322.8 L503.2,322.6 L504.7,322.8 L506.1,323.4 L507.6,323.6 L509.0,323.5 L510.4,323.2 L511.9,323.0 L513.3,322.9 L514.7,322.9 L516.2,322.9 L517.6,323.3 L519.1,323.6 L520.5,323.0 L521.9,323.2 L523.4,323.6 L524.8,323.6 L526.3,323.3 L527.7,323.0 L529.1,323.1 L530.6,322.8 L532.0,322.6 L533.4,323.3 L534.9,323.8 L535.2,328.9 L535.6,331.8 L536.0,333.2 L536.3,334.4 L536.7,335.6 L537.0,336.5 L537.4,337.8 L537.8,339.7 L538.1,340.1 L538.5,341.1 L538.8,342.3 L539.2,343.3 L539.6,343.8 L539.9,344.9 L540.3,345.3 L540.6,345.8 L542.1,348.3 L543.5,351.3 L544.9,354.0 L546.4,357.0 L547.8,359.4 L549.3,361.5 L550.7,363.0 L552.1,364.3 L553.6,365.4 L555.0,366.9 L556.5,367.8 L557.9,368.5 L559.3,370.0 L560.8,370.8 L562.2,371.2 L563.6,372.0 L565.1,372.9 L566.5,373.2 L568.0,373.8 L569.4,373.9 L570.8,374.0 L572.3,374.9 L573.7,375.9 L575.1,376.1 L576.6,377.0 L578.0,377.9 L579.5,378.2 L580.9,377.5 L582.3,377.9 L583.8,378.0 L585.2,377.7 L586.6,376.7 L588.1,376.4 L589.5,376.2 L591.0,376.2 L592.4,376.4 L593.8,377.2 L595.3,377.4 L596.7,377.6 L598.2,377.5 L599.6,377.6 L601.0,377.9 L602.5,378.0 L603.9,377.8 L605.3,377.9 L606.8,377.9 L608.2,378.2 L609.7,378.2 L611.1,378.4 L612.5,378.6 L614.0,378.3 L615.4,377.8 L616.8,378.6 L618.3,379.3 L619.7,378.7 L621.2,379.3 L622.6,379.0 L624.0,379.0 L625.5,378.6 L626.9,378.6 L628.4,378.7 L629.8,378.9 L631.2,378.5 L632.7,378.4 L634.1,378.6 L635.5,377.8 L637.0,378.3 L638.4,378.0 L639.9,377.7 L641.3,378.1 L642.7,378.8 L644.2,377.7 L645.6,377.7 L647.0,378.9 L648.5,378.6 L649.9,379.2" fill="none" stroke="#a060c0" stroke-width="0.75" stroke-linejoin="round"/>
<path d="M447.2,379.9 L448.6,380.8 L449.0,358.2 L449.3,343.9 L449.7,336.4 L450.0,330.5 L450.4,328.0 L450.8,325.9 L451.1,325.3 L451.5,323.2 L451.8,323.9 L452.2,323.1 L452.6,324.0 L452.9,322.6 L454.4,323.2 L455.8,323.6 L457.2,323.6 L458.7,323.5 L460.1,323.9 L461.5,324.2 L463.0,324.9 L464.4,324.7 L465.9,323.7 L467.3,324.7 L468.7,324.8 L470.2,323.8 L471.6,323.9 L473.0,324.4 L474.5,324.9 L475.9,325.0 L477.4,324.9 L478.8,325.1 L480.2,325.7 L481.7,326.0 L483.1,326.1 L484.6,325.8 L486.0,327.2 L487.4,327.2 L488.9,325.8 L490.3,325.5 L491.7,326.4 L493.2,324.3 L494.6,324.6 L496.1,325.9 L497.5,325.3 L498.9,325.2 L500.4,326.1 L501.8,326.5 L503.2,326.7 L504.7,328.5 L506.1,328.4 L507.6,329.4 L509.0,327.8 L510.4,327.4 L511.9,327.1 L513.3,327.4 L514.7,326.0 L516.2,325.7 L517.6,325.7 L519.1,324.5 L520.5,323.2 L521.9,322.8 L523.4,323.6 L524.8,324.2 L526.3,324.8 L527.7,326.0 L529.1,326.6 L530.6,327.9 L532.0,327.2 L533.4,327.5 L534.9,327.8 L535.2,332.8 L535.6,333.7 L536.0,335.3 L536.3,337.3 L536.7,336.5 L537.0,339.1 L537.4,341.6 L537.8,342.4 L538.1,343.3 L538.5,346.9 L538.8,346.4 L539.2,346.2 L539.6,347.8 L539.9,347.4 L540.3,346.5 L540.6,346.7 L542.1,351.0 L543.5,353.2 L544.9,355.4 L546.4,356.7 L547.8,358.6 L549.3,359.4 L550.7,360.9 L552.1,363.6 L553.6,365.5 L555.0,367.8 L556.5,368.8 L557.9,371.1 L559.3,372.4 L560.8,372.8 L562.2,373.1 L563.6,373.7 L565.1,374.3 L566.5,374.0 L568.0,374.3 L569.4,375.6 L570.8,377.5 L572.3,376.7 L573.7,377.3 L575.1,378.9 L576.6,379.0 L578.0,378.6 L579.5,379.5 L580.9,379.0 L582.3,379.0 L583.8,378.0 L585.2,378.0 L586.6,377.0 L588.1,377.8 L589.5,377.8 L591.0,377.8 L592.4,377.2 L593.8,377.9 L595.3,378.7 L596.7,378.7 L598.2,378.9 L599.6,379.3 L601.0,379.2 L602.5,379.3 L603.9,380.2 L605.3,380.4 L606.8,379.3 L608.2,379.5 L609.7,379.4 L611.1,378.9 L612.5,380.1 L614.0,381.0 L615.4,379.7 L616.8,378.6 L618.3,378.5 L619.7,376.9 L621.2,377.0 L622.6,378.0 L624.0,378.0 L625.5,377.7 L626.9,379.2 L628.4,378.5 L629.8,378.2 L631.2,379.7 L632.7,381.5 L634.1,381.2 L635.5,380.8 L637.0,381.3 L638.4,379.5 L639.9,377.6 L641.3,376.6 L642.7,377.8 L644.2,378.2 L645.6,378.4 L647.0,378.3 L648.5,378.5 L649.9,377.9" fill="none" stroke="#2030d0" stroke-width="0.75" stroke-linejoin="round"/>
<path d="M447.2,379.2 L448.6,380.5 L449.0,367.6 L449.3,358.7 L449.7,350.3 L450.0,345.7 L450.4,340.9 L450.8,338.0 L451.1,335.4 L451.5,334.2 L451.8,334.0 L452.2,333.3 L452.6,332.5 L452.9,332.6 L454.4,331.2 L455.8,330.0 L457.2,330.0 L458.7,329.8 L460.1,328.7 L461.5,329.0 L463.0,328.9 L464.4,328.1 L465.9,329.2 L467.3,330.4 L468.7,329.9 L470.2,329.5 L471.6,330.2 L473.0,329.9 L474.5,329.4 L475.9,330.6 L477.4,331.2 L478.8,331.1 L480.2,331.9 L481.7,331.8 L483.1,330.9 L484.6,330.2 L486.0,330.8 L487.4,330.3 L488.9,330.9 L490.3,331.8 L491.7,331.4 L493.2,331.2 L494.6,330.8 L496.1,330.4 L497.5,329.6 L498.9,329.9 L500.4,329.9 L501.8,329.4 L503.2,329.4 L504.7,330.2 L506.1,330.8 L507.6,330.9 L509.0,330.6 L510.4,331.0 L511.9,330.0 L513.3,329.5 L514.7,329.2 L516.2,330.3 L517.6,329.9 L519.1,330.8 L520.5,331.0 L521.9,330.7 L523.4,330.6 L524.8,331.0 L526.3,330.2 L527.7,331.2 L529.1,330.6 L530.6,330.6 L532.0,330.4 L533.4,331.1 L534.9,329.7 L535.2,334.7 L535.6,336.5 L536.0,337.8 L536.3,338.7 L536.7,339.7 L537.0,340.7 L537.4,342.0 L537.8,342.9 L538.1,343.4 L538.5,344.9 L538.8,346.0 L539.2,347.7 L539.6,347.7 L539.9,349.4 L540.3,351.2 L540.6,352.1 L542.1,353.1 L543.5,355.8 L544.9,357.7 L546.4,358.5 L547.8,360.0 L549.3,363.4 L550.7,365.5 L552.1,366.4 L553.6,367.2 L555.0,368.9 L556.5,370.0 L557.9,371.4 L559.3,372.2 L560.8,373.5 L562.2,373.6 L563.6,373.1 L565.1,373.1 L566.5,374.4 L568.0,374.7 L569.4,375.0 L570.8,375.2 L572.3,374.8 L573.7,375.0 L575.1,376.6 L576.6,377.8 L578.0,377.3 L579.5,378.5 L580.9,378.0 L582.3,377.1 L583.8,376.1 L585.2,375.8 L586.6,375.7 L588.1,376.1 L589.5,376.5 L591.0,376.8 L592.4,378.1 L593.8,378.4 L595.3,377.8 L596.7,377.1 L598.2,377.0 L599.6,377.4 L601.0,377.1 L602.5,378.5 L603.9,378.7 L605.3,379.4 L606.8,379.6 L608.2,379.1 L609.7,378.8 L611.1,379.3 L612.5,378.5 L614.0,377.5 L615.4,378.3 L616.8,377.4 L618.3,377.5 L619.7,377.7 L621.2,378.3 L622.6,378.5 L624.0,378.6 L625.5,377.5 L626.9,377.6 L628.4,377.7 L629.8,377.8 L631.2,377.4 L632.7,378.2 L634.1,378.8 L635.5,378.6 L637.0,378.7 L638.4,379.9 L639.9,380.9 L641.3,379.7 L642.7,379.0 L644.2,378.6 L645.6,378.6 L647.0,377.9 L648.5,378.8 L649.9,379.6" fill="none" stroke="#30a030" stroke-width="0.75" stroke-linejoin="round"/>
<path d="M447.2,379.5 L448.6,379.6 L449.0,368.4 L449.3,359.5 L449.7,353.0 L450.0,347.5 L450.4,342.9 L450.8,340.5 L451.1,338.0 L451.5,336.5 L451.8,335.4 L452.2,334.3 L452.6,333.4 L452.9,332.5 L454.4,330.7 L455.8,330.7 L457.2,331.3 L458.7,331.3 L460.1,331.8 L461.5,332.1 L463.0,331.7 L464.4,331.4 L465.9,331.3 L467.3,331.2 L468.7,331.2 L470.2,330.9 L471.6,331.2 L473.0,331.2 L474.5,331.4 L475.9,331.6 L477.4,332.3 L478.8,331.8 L480.2,331.6 L481.7,331.4 L483.1,331.6 L484.6,331.3 L486.0,331.8 L487.4,332.5 L488.9,332.0 L490.3,330.8 L491.7,331.1 L493.2,331.2 L494.6,330.6 L496.1,330.9 L497.5,332.4 L498.9,332.6 L500.4,332.1 L501.8,332.9 L503.2,332.7 L504.7,332.3 L506.1,331.7 L507.6,331.9 L509.0,331.5 L510.4,332.0 L511.9,331.9 L513.3,331.6 L514.7,331.6 L516.2,331.5 L517.6,331.6 L519.1,331.7 L520.5,332.3 L521.9,332.3 L523.4,331.7 L524.8,331.2 L526.3,331.0 L527.7,330.2 L529.1,329.9 L530.6,330.4 L532.0,330.8 L533.4,331.2 L534.9,331.6 L535.2,336.6 L535.6,339.9 L536.0,342.0 L536.3,342.5 L536.7,343.6 L537.0,344.4 L537.4,344.8 L537.8,345.5 L538.1,346.8 L538.5,347.3 L538.8,348.4 L539.2,349.1 L539.6,349.4 L539.9,350.5 L540.3,351.5 L540.6,352.3 L542.1,355.0 L543.5,357.8 L544.9,359.5 L546.4,361.7 L547.8,362.7 L549.3,364.6 L550.7,366.1 L552.1,368.0 L553.6,368.7 L555.0,370.5 L556.5,370.8 L557.9,371.0 L559.3,371.3 L560.8,372.6 L562.2,372.9 L563.6,374.2 L565.1,375.6 L566.5,376.1 L568.0,375.4 L569.4,375.9 L570.8,375.7 L572.3,375.1 L573.7,375.7 L575.1,376.7 L576.6,376.7 L578.0,376.9 L579.5,377.8 L580.9,377.6 L582.3,377.7 L583.8,377.6 L585.2,378.3 L586.6,378.2 L588.1,378.5 L589.5,378.7 L591.0,378.8 L592.4,378.6 L593.8,377.7 L595.3,377.8 L596.7,377.5 L598.2,377.4 L599.6,377.0 L601.0,377.9 L602.5,377.9 L603.9,378.3 L605.3,378.4 L606.8,378.7 L608.2,378.5 L609.7,378.1 L611.1,378.3 L612.5,378.8 L614.0,378.4 L615.4,378.7 L616.8,379.4 L618.3,378.6 L619.7,378.5 L621.2,379.3 L622.6,378.8 L624.0,378.7 L625.5,379.5 L626.9,379.0 L628.4,378.9 L629.8,378.5 L631.2,378.1 L632.7,377.0 L634.1,377.3 L635.5,377.1 L637.0,378.0 L638.4,378.1 L639.9,379.1 L641.3,379.1 L642.7,378.9 L644.2,379.1 L645.6,379.3 L647.0,379.8 L648.5,379.3 L649.9,379.6" fill="none" stroke="#708070" stroke-width="0.75" stroke-linejoin="round"/>
<path d="M447.2,379.1 L448.6,378.6 L449.0,373.7 L449.3,370.1 L449.7,365.8 L450.0,362.8 L450.4,360.0 L450.8,356.9 L451.1,353.5 L451.5,351.4 L451.8,348.0 L452.2,345.0 L452.6,343.2 L452.9,342.0 L454.4,337.5 L455.8,336.2 L457.2,335.7 L458.7,335.0 L460.1,334.4 L461.5,335.1 L463.0,334.6 L464.4,333.9 L465.9,335.4 L467.3,334.6 L468.7,334.1 L470.2,333.9 L471.6,334.3 L473.0,333.6 L474.5,333.7 L475.9,332.8 L477.4,333.2 L478.8,332.8 L480.2,332.4 L481.7,333.0 L483.1,334.6 L484.6,334.3 L486.0,335.5 L487.4,336.1 L488.9,335.2 L490.3,335.0 L491.7,334.6 L493.2,333.9 L494.6,333.1 L496.1,334.5 L497.5,335.0 L498.9,334.9 L500.4,334.6 L501.8,335.3 L503.2,334.9 L504.7,335.0 L506.1,335.0 L507.6,335.3 L509.0,334.7 L510.4,334.8 L511.9,334.1 L513.3,334.4 L514.7,334.9 L516.2,334.8 L517.6,334.8 L519.1,334.5 L520.5,334.2 L521.9,334.2 L523.4,334.1 L524.8,333.7 L526.3,334.5 L527.7,335.2 L529.1,335.6 L530.6,336.4 L532.0,336.3 L533.4,335.4 L534.9,335.3 L535.2,338.7 L535.6,340.5 L536.0,341.9 L536.3,343.5 L536.7,343.7 L537.0,344.3 L537.4,345.6 L537.8,346.6 L538.1,348.6 L538.5,350.0 L538.8,351.0 L539.2,351.1 L539.6,352.1 L539.9,351.4 L540.3,351.4 L540.6,352.4 L542.1,355.3 L543.5,357.2 L544.9,359.4 L546.4,361.7 L547.8,362.6 L549.3,364.3 L550.7,365.4 L552.1,366.4 L553.6,367.0 L555.0,368.2 L556.5,368.7 L557.9,369.7 L559.3,370.9 L560.8,372.8 L562.2,373.9 L563.6,374.4 L565.1,375.3 L566.5,376.1 L568.0,375.9 L569.4,376.2 L570.8,376.4 L572.3,376.5 L573.7,376.3 L575.1,376.0 L576.6,376.0 L578.0,376.1 L579.5,376.8 L580.9,378.3 L582.3,379.1 L583.8,379.0 L585.2,379.5 L586.6,379.3 L588.1,378.6 L589.5,378.1 L591.0,378.8 L592.4,378.6 L593.8,377.9 L595.3,377.1 L596.7,376.6 L598.2,376.4 L599.6,376.2 L601.0,376.4 L602.5,377.0 L603.9,378.0 L605.3,378.2 L606.8,379.1 L608.2,379.3 L609.7,379.4 L611.1,378.7 L612.5,378.8 L614.0,378.6 L615.4,378.7 L616.8,378.6 L618.3,379.4 L619.7,379.3 L621.2,379.7 L622.6,380.9 L624.0,381.2 L625.5,380.6 L626.9,380.1 L628.4,379.4 L629.8,378.5 L631.2,378.0 L632.7,378.6 L634.1,379.4 L635.5,379.8 L637.0,380.0 L638.4,379.4 L639.9,380.0 L641.3,378.8 L642.7,378.7 L644.2,377.1 L645.6,377.7 L647.0,377.2 L648.5,377.1 L649.9,376.5" fill="none" stroke="#d03030" stroke-width="0.75" stroke-linejoin="round"/>
<path d="M29.4,381.8 L30.9,382.0 L32.3,382.0 L33.7,382.0 L35.1,382.3 L36.6,382.2 L38.0,382.4 L39.4,381.9 L40.8,381.9 L42.3,382.0 L43.7,381.8 L45.1,381.7 L46.5,381.8 L47.9,382.1 L49.4,381.9 L50.8,382.2 L52.2,381.8 L53.6,382.0 L55.1,381.8 L56.5,381.9 L57.9,382.0 L59.3,382.1 L60.7,382.2 L62.2,382.1 L63.6,382.4 L65.0,382.3 L66.4,382.4 L67.9,382.1 L69.3,382.4 L70.7,382.3 L72.1,382.3 L73.5,382.3 L75.0,382.6 L76.4,382.5 L77.8,382.5 L79.2,382.7 L80.7,382.5 L82.1,382.6 L83.5,382.6 L84.9,382.2 L86.3,382.1" fill="none" stroke="#1a7a1a" stroke-width="0.7"/>
<path d="M29.4,382.5 L30.9,382.7 L32.3,382.6 L33.7,382.8 L35.1,382.5 L36.6,382.3 L38.0,381.9 L39.4,382.1 L40.8,382.0 L42.3,382.2 L43.7,382.2 L45.1,382.3 L46.5,381.8 L47.9,382.1 L49.4,382.3 L50.8,382.4 L52.2,382.6 L53.6,382.9 L55.1,382.7 L56.5,382.5 L57.9,382.3 L59.3,382.0 L60.7,382.0 L62.2,382.3 L63.6,382.6 L65.0,382.6 L66.4,382.9 L67.9,382.9 L69.3,382.6 L70.7,382.2 L72.1,382.5 L73.5,382.5 L75.0,382.5 L76.4,382.5 L77.8,382.4 L79.2,382.3 L80.7,382.4 L82.1,382.3 L83.5,382.5 L84.9,382.8 L86.3,382.7" fill="none" stroke="#8a2a9a" stroke-width="0.7"/>
<path d="M29.4,381.9 L30.9,381.4 L32.3,381.7 L33.7,381.9 L35.1,381.7 L36.6,381.9 L38.0,382.4 L39.4,382.4 L40.8,382.3 L42.3,382.7 L43.7,382.1 L45.1,381.8 L46.5,382.0 L47.9,382.0 L49.4,381.9 L50.8,382.2 L52.2,382.3 L53.6,382.1 L55.1,382.2 L56.5,382.1 L57.9,382.2 L59.3,382.2 L60.7,382.3 L62.2,382.1 L63.6,382.2 L65.0,382.1 L66.4,382.0 L67.9,381.9 L69.3,382.2 L70.7,382.2 L72.1,382.0 L73.5,382.0 L75.0,381.9 L76.4,381.9 L77.8,381.9 L79.2,382.2 L80.7,382.5 L82.1,382.5 L83.5,382.6 L84.9,382.2 L86.3,382.2" fill="none" stroke="#333" stroke-width="0.7"/>
<path d="M29.4,382.1 L30.9,382.2 L32.3,382.0 L33.7,381.7 L35.1,381.3 L36.6,381.5 L38.0,380.9 L39.4,381.2 L40.8,381.3 L42.3,381.7 L43.7,381.7 L45.1,381.9 L46.5,382.2 L47.9,382.4 L49.4,382.1 L50.8,382.6 L52.2,382.6 L53.6,382.2 L55.1,382.1 L56.5,382.4 L57.9,381.7 L59.3,381.7 L60.7,382.1 L62.2,382.3 L63.6,382.4 L65.0,382.6 L66.4,382.8 L67.9,382.5 L69.3,382.0 L70.7,382.5 L72.1,382.3 L73.5,382.1 L75.0,382.0 L76.4,382.2 L77.8,381.8 L79.2,381.9 L80.7,382.0 L82.1,382.2 L83.5,382.1 L84.9,382.2 L86.3,382.3" fill="none" stroke="#2a2a2a" stroke-width="0.7"/>
<path d="M391.1,379.8 L392.5,379.7 L394.0,379.8 L395.4,379.6 L396.8,379.5 L398.3,379.0 L399.7,379.0 L401.1,378.7 L402.6,379.1 L404.0,379.3 L405.5,379.7 L406.9,379.5 L408.3,379.5 L409.8,379.4 L411.2,379.0 L412.7,378.8 L414.1,379.1 L415.5,379.3 L417.0,379.4 L418.4,379.3 L419.8,379.5 L421.3,379.2 L422.7,379.0 L424.2,378.9 L425.6,379.3 L427.0,379.1 L428.5,379.4 L429.9,379.8 L431.3,380.0 L432.8,379.8 L434.2,379.8 L435.7,379.4 L437.1,379.5 L438.5,379.2 L440.0,379.5 L441.4,379.3 L442.8,379.5 L444.3,379.2 L445.7,379.0 L447.2,378.8 L448.6,379.1" fill="none" stroke="#1a7a1a" stroke-width="0.7"/>
<path d="M391.1,379.3 L392.5,379.2 L394.0,379.2 L395.4,379.3 L396.8,379.5 L398.3,379.8 L399.7,379.8 L401.1,379.8 L402.6,379.8 L404.0,379.8 L405.5,379.8 L406.9,379.9 L408.3,379.8 L409.8,379.6 L411.2,379.4 L412.7,379.5 L414.1,379.5 L415.5,379.7 L417.0,380.0 L418.4,380.3 L419.8,380.2 L421.3,380.3 L422.7,380.0 L424.2,380.0 L425.6,380.1 L427.0,380.1 L428.5,379.7 L429.9,379.4 L431.3,379.2 L432.8,379.2 L434.2,379.1 L435.7,379.3 L437.1,379.6 L438.5,379.1 L440.0,379.3 L441.4,379.2 L442.8,379.3 L444.3,379.3 L445.7,379.8 L447.2,379.5 L448.6,379.7" fill="none" stroke="#c04040" stroke-width="0.7"/>
<path d="M391.1,379.3 L392.5,379.8 L394.0,379.8 L395.4,379.6 L396.8,379.6 L398.3,379.6 L399.7,379.2 L401.1,379.3 L402.6,379.1 L404.0,379.2 L405.5,379.2 L406.9,379.4 L408.3,379.4 L409.8,379.3 L411.2,379.4 L412.7,378.9 L414.1,378.6 L415.5,378.9 L417.0,378.8 L418.4,378.7 L419.8,379.1 L421.3,379.5 L422.7,379.0 L424.2,379.4 L425.6,379.4 L427.0,379.5 L428.5,379.1 L429.9,379.1 L431.3,379.2 L432.8,379.3 L434.2,379.1 L435.7,379.5 L437.1,379.8 L438.5,379.7 L440.0,379.6 L441.4,379.9 L442.8,379.7 L444.3,379.2 L445.7,379.0 L447.2,378.8 L448.6,378.5" fill="none" stroke="#2030c0" stroke-width="0.7"/>
<path d="M391.1,379.6 L392.5,379.3 L394.0,379.3 L395.4,379.4 L396.8,379.4 L398.3,379.2 L399.7,379.3 L401.1,379.3 L402.6,379.4 L404.0,379.5 L405.5,379.7 L406.9,379.9 L408.3,379.7 L409.8,379.4 L411.2,379.5 L412.7,379.7 L414.1,379.5 L415.5,379.6 L417.0,379.6 L418.4,379.8 L419.8,379.7 L421.3,379.6 L422.7,379.5 L424.2,379.6 L425.6,379.0 L427.0,378.9 L428.5,378.9 L429.9,379.3 L431.3,379.2 L432.8,379.7 L434.2,379.6 L435.7,379.7 L437.1,379.3 L438.5,378.9 L440.0,378.7 L441.4,378.9 L442.8,378.6 L444.3,379.0 L445.7,379.4 L447.2,379.4 L448.6,379.5" fill="none" stroke="#333" stroke-width="0.7"/>
<path d="M62.7,382.2 L63.2,385.8 L63.6,382.2" stroke="#1a9a1a" stroke-width="0.8" fill="none"/>
<path d="M424.9,379.4 L425.3,392.1 L425.7,379.4" stroke="#1a9a1a" stroke-width="0.8" fill="none"/>
<path d="M448.3,379.4 L448.7,390.1 L449.0,339.1" stroke="#2020d0" stroke-width="0.8" fill="none"/>
<text x="301.50" y="273.00" font-family="Liberation Sans" font-size="9.9" font-weight="bold" fill="#111" text-anchor="middle" textLength="40.5" lengthAdjust="spacingAndGlyphs" >GSK4642</text>
<g stroke="#555" stroke-width="0.6" fill="none" stroke-linecap="round">
<line x1="295.6" y1="286.2" x2="295.6" y2="307.5"/>
<line x1="287.0" y1="295.5" x2="304.8" y2="295.5"/>
<line x1="295.6" y1="307.5" x2="287.2" y2="311.9"/>
<line x1="294.9" y1="305.9" x2="286.5" y2="310.3"/>
<line x1="295.6" y1="307.5" x2="303.2" y2="311.3"/>
<line x1="306.5" y1="315.3" x2="306.5" y2="325.5"/>
<line x1="306.5" y1="325.5" x2="316.2" y2="331.1"/>
<line x1="316.2" y1="331.1" x2="316.2" y2="342.3"/>
<line x1="316.2" y1="342.3" x2="326.6" y2="347.8"/>
<line x1="326.6" y1="347.8" x2="326.6" y2="360.8"/>
<line x1="326.6" y1="360.8" x2="318.2" y2="365.3"/>
<line x1="314.4" y1="365.3" x2="305.9" y2="360.8"/>
<line x1="305.9" y1="360.8" x2="305.9" y2="347.8"/>
<line x1="305.9" y1="347.8" x2="316.2" y2="342.3"/>
<line x1="316.3" y1="368.6" x2="316.3" y2="379.5"/>
<line x1="316.3" y1="379.5" x2="326.7" y2="384.6"/>
<line x1="317.6" y1="381.6" x2="325.3" y2="385.4"/>
<line x1="326.7" y1="384.6" x2="326.7" y2="396.3"/>
<line x1="326.7" y1="396.3" x2="318.0" y2="401.0"/>
<line x1="314.6" y1="401.0" x2="306" y2="396.3"/>
<line x1="313.8" y1="399.2" x2="307.3" y2="395.5"/>
<line x1="306" y1="396.3" x2="306" y2="386.6"/>
<line x1="307.6" y1="382.6" x2="316.3" y2="379.5"/>
<line x1="326.7" y1="384.6" x2="334.6" y2="380.4"/>
<line x1="338.0" y1="381.5" x2="344.3" y2="390.7"/>
<line x1="344.3" y1="390.7" x2="337.9" y2="399.3"/>
<line x1="342.5" y1="391.2" x2="337.0" y2="398.2"/>
<line x1="337.9" y1="399.3" x2="326.7" y2="396.3"/>
<line x1="344.3" y1="390.7" x2="355.4" y2="390.7"/>
<line x1="355.4" y1="390.7" x2="360.8" y2="381.6"/>
<line x1="356.9" y1="391.5" x2="362.2" y2="382.4"/>
<line x1="355.4" y1="390.7" x2="361.4" y2="398.2"/>
</g>
<text x="297.9" y="284.60" font-family="Liberation Sans" font-size="4.6" fill="#444" text-anchor="middle">CH<tspan font-size="3" dy="1">3</tspan></text>
<text x="280.2" y="296.00" font-family="Liberation Sans" font-size="4.6" fill="#444" text-anchor="middle">H<tspan font-size="3" dy="1">3</tspan><tspan dy="-1">C</tspan></text>
<text x="309.8" y="296.20" font-family="Liberation Sans" font-size="4.6" fill="#444" text-anchor="middle">CH<tspan font-size="3" dy="1">3</tspan></text>
<text x="285.1" y="314.00" font-family="Liberation Sans" font-size="5" fill="#e04040" text-anchor="middle">O</text>
<text x="307.0" y="313.60" font-family="Liberation Sans" font-size="4.6" fill="#5050c0" text-anchor="middle">NH</text>
<text x="316.3" y="367.80" font-family="Liberation Sans" font-size="4.6" fill="#5050c0" text-anchor="middle">N</text>
<text x="306" y="386.20" font-family="Liberation Sans" font-size="4.6" fill="#5050c0" text-anchor="middle">N</text>
<text x="316.3" y="403.50" font-family="Liberation Sans" font-size="4.6" fill="#5050c0" text-anchor="middle">N</text>
<text x="336.3" y="381.40" font-family="Liberation Sans" font-size="4.6" fill="#a09030" text-anchor="middle">S</text>
<text x="361.8" y="381.10" font-family="Liberation Sans" font-size="5" fill="#e04040" text-anchor="middle">O</text>
<text x="365.5" y="402.80" font-family="Liberation Sans" font-size="4.6" fill="#5050c0" text-anchor="middle">NH<tspan font-size="3" dy="1">2</tspan></text>
</svg>
</body></html>
